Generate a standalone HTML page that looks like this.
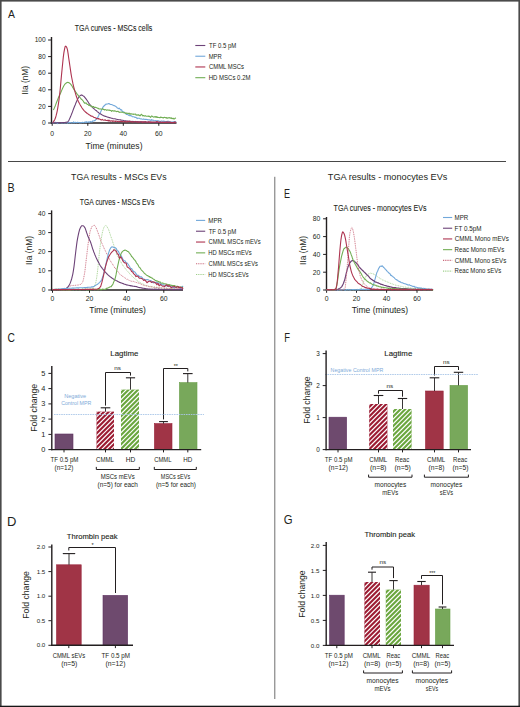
<!DOCTYPE html>
<html><head><meta charset="utf-8"><title>TGA figure</title>
<style>
html,body{margin:0;padding:0;background:#fff;}
body{width:520px;height:707px;overflow:hidden;font-family:"Liberation Sans", sans-serif;}
svg{display:block;}
</style></head><body>
<svg width="520" height="707" viewBox="0 0 520 707" font-family='"Liberation Sans", sans-serif' fill="#231f20">
<rect x="0" y="0" width="520" height="707" fill="#fff"/>
<rect x="0" y="0" width="520" height="1.6" fill="#4a4a4a"/>
<rect x="0" y="0" width="1.6" height="707" fill="#4a4a4a"/>
<rect x="518.4" y="0" width="1.6" height="707" fill="#4a4a4a"/>
<rect x="0" y="705.7" width="520" height="1.3" fill="#161616"/>
<line x1="8" y1="161.5" x2="506" y2="161.5" stroke="#474747" stroke-width="1.1"/>
<line x1="274.8" y1="176.8" x2="274.8" y2="699" stroke="#6e6e6e" stroke-width="1"/>
<text x="7.98" y="18" font-size="11.77" textLength="6.94" lengthAdjust="spacingAndGlyphs">A</text>
<text x="7.42" y="191.7" font-size="12.35" textLength="7.14" lengthAdjust="spacingAndGlyphs">B</text>
<text x="7.48" y="342.45" font-size="12.43" textLength="7.41" lengthAdjust="spacingAndGlyphs">C</text>
<text x="7.08" y="525.7" font-size="12.5" textLength="9.39" lengthAdjust="spacingAndGlyphs">D</text>
<text x="284.06" y="197.8" font-size="12.94" textLength="6.03" lengthAdjust="spacingAndGlyphs">E</text>
<text x="284.13" y="342.3" font-size="12.06" textLength="5.75" lengthAdjust="spacingAndGlyphs">F</text>
<text x="283.73" y="523.55" font-size="12.43" textLength="8.82" lengthAdjust="spacingAndGlyphs">G</text>
<text x="74.84" y="31.4" font-size="8.4" textLength="77.41" lengthAdjust="spacingAndGlyphs" stroke="#231f20" stroke-width="0.08">TGA curves - MSCs cells</text>
<line x1="51.5" y1="37" x2="51.5" y2="123.6" stroke="#231f20" stroke-width="1.4"/>
<line x1="48.1" y1="40" x2="51.5" y2="40" stroke="#231f20" stroke-width="1"/>
<text x="45.7" y="42.27" font-size="6.6" text-anchor="end">100</text>
<line x1="48.1" y1="56.6" x2="51.5" y2="56.6" stroke="#231f20" stroke-width="1"/>
<text x="45.7" y="58.87" font-size="6.6" text-anchor="end">80</text>
<line x1="48.1" y1="73.2" x2="51.5" y2="73.2" stroke="#231f20" stroke-width="1"/>
<text x="45.7" y="75.47" font-size="6.6" text-anchor="end">60</text>
<line x1="48.1" y1="89.8" x2="51.5" y2="89.8" stroke="#231f20" stroke-width="1"/>
<text x="45.7" y="92.07" font-size="6.6" text-anchor="end">40</text>
<line x1="48.1" y1="106.4" x2="51.5" y2="106.4" stroke="#231f20" stroke-width="1"/>
<text x="45.7" y="108.67" font-size="6.6" text-anchor="end">20</text>
<line x1="48.1" y1="123" x2="51.5" y2="123" stroke="#231f20" stroke-width="1"/>
<text x="45.7" y="125.27" font-size="6.6" text-anchor="end">0</text>
<line x1="50.9" y1="123" x2="176.5" y2="123" stroke="#231f20" stroke-width="1.4"/>
<line x1="52.2" y1="123" x2="52.2" y2="125.8" stroke="#231f20" stroke-width="1"/>
<text x="52.2" y="135.8" font-size="6.8" text-anchor="middle">0</text>
<line x1="87.8" y1="123" x2="87.8" y2="125.8" stroke="#231f20" stroke-width="1"/>
<text x="87.8" y="135.8" font-size="6.8" text-anchor="middle">20</text>
<line x1="123.3" y1="123" x2="123.3" y2="125.8" stroke="#231f20" stroke-width="1"/>
<text x="123.3" y="135.8" font-size="6.8" text-anchor="middle">40</text>
<line x1="158.8" y1="123" x2="158.8" y2="125.8" stroke="#231f20" stroke-width="1"/>
<text x="158.8" y="135.8" font-size="6.8" text-anchor="middle">60</text>
<text transform="translate(27.9,93.9) rotate(-90)" x="-0.77" y="0" font-size="9.8" textLength="28.68" lengthAdjust="spacingAndGlyphs">IIa (nM)</text>
<text x="85.61" y="148.8" font-size="9.3" textLength="56.92" lengthAdjust="spacingAndGlyphs">Time (minutes)</text>
<path d="M52.0,123.3 L52.6,122.2 L53.2,122.9 L53.8,122.7 L54.4,122.7 L55.0,122.7 L55.6,122.3 L56.2,122.7 L56.8,122.6 L57.4,123.6 L58.0,122.8 L58.6,122.7 L59.2,122.7 L59.8,122.6 L60.4,122.5 L61.0,122.7 L61.6,122.9 L62.2,122.7 L62.8,123.0 L63.4,122.7 L64.0,122.7 L64.6,123.1 L65.2,122.9 L65.8,122.6 L66.4,122.7 L67.0,122.8 L67.6,123.2 L68.2,122.6 L68.8,122.6 L69.4,122.9 L70.0,122.4 L70.6,122.6 L71.2,122.9 L71.8,122.8 L72.4,122.7 L73.0,122.8 L73.6,121.9 L74.2,122.9 L74.8,122.4 L75.4,122.2 L76.0,122.6 L76.6,122.7 L77.2,122.4 L77.8,122.3 L78.4,122.5 L79.0,122.5 L79.6,122.9 L80.2,122.7 L80.8,122.5 L81.4,122.7 L82.0,122.4 L82.6,122.2 L83.2,122.6 L83.8,122.5 L84.4,122.3 L85.0,122.1 L85.6,122.4 L86.2,121.7 L86.8,122.4 L87.4,122.4 L88.0,121.8 L88.6,122.2 L89.2,121.9 L89.8,122.3 L90.4,121.5 L91.0,121.7 L91.6,121.9 L92.2,121.9 L92.8,120.8 L93.4,121.0 L94.0,121.0 L94.6,120.4 L95.2,120.6 L95.8,119.5 L96.4,119.2 L97.0,118.0 L97.6,117.7 L98.2,116.4 L98.8,115.2 L99.4,113.8 L100.0,113.5 L100.6,112.0 L101.2,110.8 L101.8,109.6 L102.4,108.3 L103.0,107.1 L103.6,106.3 L104.2,105.6 L104.8,105.6 L105.4,104.3 L106.0,104.2 L106.6,104.1 L107.2,104.0 L107.8,104.0 L108.4,103.6 L109.0,103.5 L109.6,104.0 L110.2,104.4 L110.8,104.5 L111.4,104.5 L112.0,104.6 L112.6,105.0 L113.2,105.2 L113.8,105.7 L114.4,105.6 L115.0,106.1 L115.6,106.3 L116.2,106.8 L116.8,107.2 L117.4,108.1 L118.0,108.3 L118.6,108.7 L119.2,108.2 L119.8,109.0 L120.4,109.3 L121.0,110.1 L121.6,109.8 L122.2,111.2 L122.8,111.7 L123.4,111.7 L124.0,112.2 L124.6,112.7 L125.2,113.3 L125.8,113.8 L126.4,114.4 L127.0,114.2 L127.6,114.7 L128.2,114.8 L128.8,115.5 L129.4,115.5 L130.0,115.9 L130.6,115.5 L131.2,115.9 L131.8,116.0 L132.4,116.8 L133.0,116.8 L133.6,116.8 L134.2,116.9 L134.8,117.4 L135.4,117.3 L136.0,117.4 L136.6,117.9 L137.2,118.6 L137.8,118.1 L138.4,118.2 L139.0,118.2 L139.6,118.3 L140.2,118.8 L140.8,119.0 L141.4,118.9 L142.0,119.1 L142.6,119.2 L143.2,119.3 L143.8,118.9 L144.4,119.3 L145.0,119.5 L145.6,119.3 L146.2,119.5 L146.8,119.4 L147.4,119.6 L148.0,119.9 L148.6,119.7 L149.2,119.8 L149.8,120.1 L150.4,120.1 L151.0,120.4 L151.6,119.5 L152.2,120.3 L152.8,120.1 L153.4,120.3 L154.0,120.6 L154.6,120.7 L155.2,120.8 L155.8,120.6 L156.4,121.0 L157.0,120.6 L157.6,120.7 L158.2,121.0 L158.8,120.8 L159.4,121.5 L160.0,121.3 L160.6,121.6 L161.2,121.1 L161.8,121.0 L162.4,121.2 L163.0,121.4 L163.6,121.1 L164.2,121.4 L164.8,121.4 L165.4,121.8 L166.0,121.3 L166.6,121.8 L167.2,121.4 L167.8,121.3 L168.4,121.4 L169.0,121.4 L169.6,121.7 L170.2,122.0 L170.8,121.8 L171.4,122.0 L172.0,122.2 L172.6,121.9 L173.2,121.9 L173.8,121.8 L174.4,121.5 L175.0,122.2 L175.6,121.5 L176.0,122.2" fill="none" stroke="#72a8da" stroke-width="1.1" stroke-linejoin="round"/>
<path d="M52.0,122.8 L52.6,122.9 L53.2,122.8 L53.8,122.7 L54.4,122.8 L55.0,122.7 L55.6,122.8 L56.2,122.8 L56.8,122.8 L57.4,122.7 L58.0,122.7 L58.6,122.7 L59.2,122.5 L59.8,122.7 L60.4,122.6 L61.0,122.8 L61.6,122.8 L62.2,122.5 L62.8,122.7 L63.4,122.6 L64.0,122.5 L64.6,122.6 L65.2,122.5 L65.8,122.2 L66.4,122.3 L67.0,122.1 L67.6,122.0 L68.2,121.3 L68.8,120.5 L69.4,119.3 L70.0,117.9 L70.6,116.6 L71.2,115.1 L71.8,113.5 L72.4,112.1 L73.0,110.4 L73.6,108.7 L74.2,107.2 L74.8,105.8 L75.4,104.5 L76.0,102.7 L76.6,101.4 L77.2,100.1 L77.8,98.8 L78.4,97.9 L79.0,96.7 L79.6,96.2 L80.2,95.6 L80.8,95.2 L81.4,94.9 L82.0,95.3 L82.6,95.4 L83.2,95.9 L83.8,96.2 L84.4,96.8 L85.0,97.6 L85.6,98.4 L86.2,99.2 L86.8,100.0 L87.4,100.9 L88.0,101.8 L88.6,102.8 L89.2,103.6 L89.8,104.3 L90.4,105.1 L91.0,105.8 L91.6,106.4 L92.2,107.0 L92.8,107.7 L93.4,108.4 L94.0,108.7 L94.6,109.3 L95.2,109.8 L95.8,110.5 L96.4,110.6 L97.0,111.4 L97.6,111.9 L98.2,112.2 L98.8,112.9 L99.4,113.3 L100.0,113.6 L100.6,114.1 L101.2,114.3 L101.8,114.7 L102.4,115.2 L103.0,115.3 L103.6,115.8 L104.2,115.9 L104.8,116.3 L105.4,116.4 L106.0,116.4 L106.6,116.8 L107.2,117.0 L107.8,117.1 L108.4,117.2 L109.0,117.6 L109.6,117.6 L110.2,117.7 L110.8,117.9 L111.4,118.2 L112.0,118.2 L112.6,118.5 L113.2,118.7 L113.8,118.7 L114.4,118.7 L115.0,118.8 L115.6,119.0 L116.2,119.2 L116.8,119.3 L117.4,119.5 L118.0,119.5 L118.6,119.7 L119.2,119.7 L119.8,119.8 L120.4,119.9 L121.0,119.9 L121.6,120.2 L122.2,120.2 L122.8,120.3 L123.4,120.6 L124.0,120.6 L124.6,121.0 L125.2,120.9 L125.8,120.8 L126.4,121.1 L127.0,121.1 L127.6,121.1 L128.2,121.3 L128.8,121.2 L129.4,121.0 L130.0,121.4 L130.6,121.3 L131.2,121.6 L131.8,121.4 L132.4,121.4 L133.0,121.7 L133.6,121.4 L134.2,121.6 L134.8,121.7 L135.4,121.6 L136.0,121.6 L136.6,121.7 L137.2,121.8 L137.8,121.6 L138.4,121.8 L139.0,121.8 L139.6,122.0 L140.2,121.8 L140.8,121.7 L141.4,121.9 L142.0,121.8 L142.6,121.9 L143.2,121.9 L143.8,122.1 L144.4,121.9 L145.0,122.0 L145.6,121.7 L146.2,121.9 L146.8,122.2 L147.4,122.0 L148.0,122.0 L148.6,122.0 L149.2,122.2 L149.8,122.1 L150.4,122.0 L151.0,122.2 L151.6,122.2 L152.2,122.3 L152.8,122.1 L153.4,122.4 L154.0,122.3 L154.6,122.2 L155.2,122.2 L155.8,122.3 L156.4,122.4 L157.0,122.3 L157.6,122.4 L158.2,122.4 L158.8,122.5 L159.4,122.4 L160.0,122.4 L160.6,122.2 L161.2,122.4 L161.8,122.5 L162.4,122.4 L163.0,122.5 L163.6,122.4 L164.2,122.4 L164.8,122.3 L165.4,122.6 L166.0,122.5 L166.6,122.4 L167.2,122.3 L167.8,122.4 L168.4,122.6 L169.0,122.5 L169.6,122.4 L170.2,122.6 L170.8,122.6 L171.4,122.6 L172.0,122.6 L172.6,122.6 L173.2,122.5 L173.8,122.6 L174.4,122.4 L175.0,122.6 L175.6,122.5 L176.0,122.7" fill="none" stroke="#6d4378" stroke-width="1.1" stroke-linejoin="round"/>
<path d="M53.4,110.0 L54.0,108.8 L54.6,107.4 L55.2,106.0 L55.8,104.4 L56.4,102.8 L57.0,101.2 L57.6,99.7 L58.2,98.2 L58.8,96.8 L59.4,95.5 L60.0,94.2 L60.6,92.9 L61.2,91.6 L61.8,90.1 L62.4,88.7 L63.0,87.5 L63.6,86.3 L64.2,85.2 L64.8,84.3 L65.4,83.6 L66.0,83.2 L66.6,82.8 L67.2,82.5 L67.8,82.4 L68.4,82.5 L69.0,82.8 L69.6,83.2 L70.2,83.7 L70.8,84.3 L71.4,85.1 L72.0,86.0 L72.6,87.1 L73.2,88.1 L73.8,89.2 L74.4,90.1 L75.0,91.0 L75.6,91.9 L76.2,92.7 L76.8,93.6 L77.4,94.4 L78.0,95.1 L78.6,95.9 L79.2,96.6 L79.8,97.3 L80.4,97.8 L81.0,98.9 L81.6,99.5 L82.2,99.7 L82.8,100.6 L83.4,101.2 L84.0,102.4 L84.6,103.2 L85.2,102.8 L85.8,103.3 L86.4,103.0 L87.0,104.2 L87.6,104.5 L88.2,104.5 L88.8,105.5 L89.4,105.0 L90.0,105.7 L90.6,106.1 L91.2,105.9 L91.8,106.8 L92.4,107.1 L93.0,106.4 L93.6,106.6 L94.2,107.5 L94.8,107.4 L95.4,107.2 L96.0,107.6 L96.6,107.8 L97.2,108.0 L97.8,108.4 L98.4,108.4 L99.0,109.0 L99.6,109.0 L100.2,108.9 L100.8,109.1 L101.4,109.3 L102.0,109.2 L102.6,108.7 L103.2,109.5 L103.8,109.3 L104.4,110.0 L105.0,109.5 L105.6,109.8 L106.2,109.8 L106.8,110.4 L107.4,110.0 L108.0,109.9 L108.6,110.2 L109.2,110.1 L109.8,110.4 L110.4,110.4 L111.0,110.6 L111.6,111.3 L112.2,110.6 L112.8,110.8 L113.4,110.9 L114.0,111.3 L114.6,110.7 L115.2,111.0 L115.8,111.3 L116.4,111.6 L117.0,111.5 L117.6,111.4 L118.2,111.4 L118.8,112.0 L119.4,112.4 L120.0,112.1 L120.6,112.2 L121.2,112.3 L121.8,112.0 L122.4,112.3 L123.0,112.4 L123.6,112.7 L124.2,112.7 L124.8,112.4 L125.4,113.3 L126.0,113.6 L126.6,113.0 L127.2,113.3 L127.8,113.4 L128.4,113.7 L129.0,113.0 L129.6,114.2 L130.2,113.6 L130.8,114.3 L131.4,113.9 L132.0,113.9 L132.6,114.1 L133.2,114.5 L133.8,114.0 L134.4,114.3 L135.0,114.3 L135.6,114.0 L136.2,115.2 L136.8,115.0 L137.4,114.9 L138.0,115.4 L138.6,114.7 L139.2,115.1 L139.8,115.8 L140.4,115.7 L141.0,114.6 L141.6,114.3 L142.2,115.2 L142.8,116.0 L143.4,115.5 L144.0,115.7 L144.6,116.1 L145.2,115.6 L145.8,116.1 L146.4,116.3 L147.0,116.3 L147.6,116.3 L148.2,116.0 L148.8,116.5 L149.4,116.2 L150.0,116.9 L150.6,117.4 L151.2,116.3 L151.8,115.8 L152.4,116.5 L153.0,116.8 L153.6,117.1 L154.2,117.2 L154.8,116.6 L155.4,116.6 L156.0,117.4 L156.6,116.6 L157.2,117.5 L157.8,117.1 L158.4,117.5 L159.0,117.5 L159.6,117.6 L160.2,117.6 L160.8,117.0 L161.4,117.5 L162.0,117.5 L162.6,117.6 L163.2,118.0 L163.8,117.5 L164.4,117.4 L165.0,117.5 L165.6,117.6 L166.2,118.1 L166.8,117.5 L167.4,118.3 L168.0,118.0 L168.6,117.9 L169.2,117.5 L169.8,118.1 L170.4,118.3 L171.0,117.5 L171.6,118.5 L172.2,118.7 L172.8,118.3 L173.4,118.4 L174.0,119.1 L174.6,118.7 L175.2,118.0 L175.8,118.3 L176.0,118.2" fill="none" stroke="#72ae55" stroke-width="1.1" stroke-linejoin="round"/>
<path d="M52.5,122.5 L53.1,122.1 L53.7,121.4 L54.3,120.4 L54.9,119.2 L55.5,117.8 L56.1,115.7 L56.7,113.3 L57.3,110.6 L57.9,107.2 L58.5,103.3 L59.1,98.9 L59.7,94.1 L60.3,88.2 L60.9,81.6 L61.5,75.1 L62.1,69.0 L62.7,63.0 L63.3,57.1 L63.9,52.6 L64.5,49.3 L65.1,46.7 L65.7,46.1 L66.3,46.7 L66.9,47.8 L67.5,49.9 L68.1,53.6 L68.7,58.0 L69.3,61.9 L69.9,66.0 L70.5,70.2 L71.1,74.1 L71.7,77.5 L72.3,80.5 L72.9,83.4 L73.5,86.0 L74.1,88.4 L74.7,90.7 L75.3,92.9 L75.9,94.9 L76.5,96.8 L77.1,98.4 L77.7,99.9 L78.3,101.2 L78.9,102.4 L79.5,103.6 L80.1,104.7 L80.7,105.7 L81.3,106.7 L81.9,107.7 L82.5,108.6 L83.1,109.4 L83.7,110.1 L84.3,110.8 L84.9,111.4 L85.5,112.0 L86.1,112.5 L86.7,113.0 L87.3,113.5 L87.9,113.9 L88.5,114.3 L89.1,114.7 L89.7,115.1 L90.3,115.4 L90.9,116.0 L91.5,116.1 L92.1,116.2 L92.7,116.3 L93.3,117.0 L93.9,117.4 L94.5,117.6 L95.1,117.8 L95.7,117.7 L96.3,118.7 L96.9,118.4 L97.5,118.6 L98.1,119.0 L98.7,118.5 L99.3,119.1 L99.9,119.3 L100.5,119.6 L101.1,119.9 L101.7,119.9 L102.3,119.4 L102.9,119.9 L103.5,120.1 L104.1,120.2 L104.7,119.9 L105.3,119.9 L105.9,120.5 L106.5,120.5 L107.1,120.5 L107.7,120.2 L108.3,121.1 L108.9,120.0 L109.5,120.7 L110.1,121.4 L110.7,120.9 L111.3,121.0 L111.9,120.7 L112.5,121.4 L113.1,120.8 L113.7,121.2 L114.3,121.2 L114.9,121.0 L115.5,121.5 L116.1,121.0 L116.7,121.2 L117.3,121.4 L117.9,121.3 L118.5,121.6 L119.1,121.7 L119.7,121.4 L120.3,121.4 L120.9,121.4 L121.5,121.5 L122.1,121.8 L122.7,121.5 L123.3,121.7 L123.9,121.6 L124.5,121.4 L125.1,121.9 L125.7,121.4 L126.3,121.7 L126.9,122.1 L127.5,121.4 L128.1,121.7 L128.7,121.3 L129.3,121.6 L129.9,121.4 L130.5,121.7 L131.1,121.6 L131.7,121.8 L132.3,122.2 L132.9,121.9 L133.5,122.0 L134.1,121.8 L134.7,121.8 L135.3,121.7 L135.9,121.4 L136.5,121.9 L137.1,122.3 L137.7,122.0 L138.3,121.8 L138.9,122.4 L139.5,121.8 L140.1,121.8 L140.7,121.7 L141.3,121.7 L141.9,121.9 L142.5,122.5 L143.1,122.0 L143.7,121.8 L144.3,121.9 L144.9,122.0 L145.5,121.6 L146.1,122.1 L146.7,122.3 L147.3,122.2 L147.9,122.2 L148.5,121.8 L149.1,121.7 L149.7,122.4 L150.3,122.4 L150.9,121.8 L151.5,122.2 L152.1,122.2 L152.7,122.3 L153.3,122.2 L153.9,122.0 L154.5,122.2 L155.1,122.2 L155.7,122.2 L156.3,121.7 L156.9,121.5 L157.5,122.0 L158.1,121.8 L158.7,122.3 L159.3,122.4 L159.9,122.3 L160.5,122.1 L161.1,122.3 L161.7,122.5 L162.3,122.1 L162.9,122.5 L163.5,122.4 L164.1,122.3 L164.7,122.6 L165.3,122.1 L165.9,122.5 L166.5,122.0 L167.1,122.1 L167.7,122.0 L168.3,122.4 L168.9,122.1 L169.5,122.3 L170.1,122.0 L170.7,122.6 L171.3,122.8 L171.9,122.4 L172.5,122.7 L173.1,122.4 L173.7,122.8 L174.3,122.3 L174.9,121.9 L175.5,122.7 L176.0,122.3" fill="none" stroke="#ae3450" stroke-width="1.1" stroke-linejoin="round"/>
<line x1="195.3" y1="45.5" x2="205.3" y2="45.5" stroke="#6d4378" stroke-width="1.1"/>
<text x="209.07" y="47.8" font-size="6.9" textLength="27.22" lengthAdjust="spacingAndGlyphs">TF 0.5 pM</text>
<line x1="195.3" y1="56.23" x2="205.3" y2="56.23" stroke="#72a8da" stroke-width="1.1"/>
<text x="208.72" y="58.53" font-size="6.9" textLength="13.05" lengthAdjust="spacingAndGlyphs">MPR</text>
<line x1="195.3" y1="66.96" x2="205.3" y2="66.96" stroke="#ae3450" stroke-width="1.1"/>
<text x="208.90" y="69.26" font-size="6.9" textLength="35.11" lengthAdjust="spacingAndGlyphs">CMML MSCs</text>
<line x1="195.3" y1="77.69" x2="205.3" y2="77.69" stroke="#72ae55" stroke-width="1.1"/>
<text x="208.71" y="79.99" font-size="6.9" textLength="41.79" lengthAdjust="spacingAndGlyphs">HD MSCs 0.2M</text>
<text x="71.06" y="180" font-size="9.5" textLength="95.51" lengthAdjust="spacingAndGlyphs">TGA results - MSCs EVs</text>
<text x="79.85" y="205.1" font-size="8.2" textLength="74.65" lengthAdjust="spacingAndGlyphs" stroke="#231f20" stroke-width="0.08">TGA curves - MSCs EVs</text>
<line x1="51.6" y1="210.4" x2="51.6" y2="290.6" stroke="#231f20" stroke-width="1.4"/>
<line x1="48.2" y1="213.6" x2="51.6" y2="213.6" stroke="#231f20" stroke-width="1"/>
<text x="45.4" y="215.87" font-size="6.6" text-anchor="end">40</text>
<line x1="48.2" y1="232.6" x2="51.6" y2="232.6" stroke="#231f20" stroke-width="1"/>
<text x="45.4" y="234.87" font-size="6.6" text-anchor="end">30</text>
<line x1="48.2" y1="251.6" x2="51.6" y2="251.6" stroke="#231f20" stroke-width="1"/>
<text x="45.4" y="253.87" font-size="6.6" text-anchor="end">20</text>
<line x1="48.2" y1="270.8" x2="51.6" y2="270.8" stroke="#231f20" stroke-width="1"/>
<text x="45.4" y="273.07" font-size="6.6" text-anchor="end">10</text>
<line x1="48.2" y1="290" x2="51.6" y2="290" stroke="#231f20" stroke-width="1"/>
<text x="45.4" y="292.27" font-size="6.6" text-anchor="end">0</text>
<line x1="51.2" y1="290" x2="183" y2="290" stroke="#231f20" stroke-width="1.4"/>
<line x1="52.5" y1="290" x2="52.5" y2="292.8" stroke="#231f20" stroke-width="1"/>
<text x="52.5" y="301" font-size="6.8" text-anchor="middle">0</text>
<line x1="89.5" y1="290" x2="89.5" y2="292.8" stroke="#231f20" stroke-width="1"/>
<text x="89.5" y="301" font-size="6.8" text-anchor="middle">20</text>
<line x1="126.5" y1="290" x2="126.5" y2="292.8" stroke="#231f20" stroke-width="1"/>
<text x="126.5" y="301" font-size="6.8" text-anchor="middle">40</text>
<line x1="163.8" y1="290" x2="163.8" y2="292.8" stroke="#231f20" stroke-width="1"/>
<text x="163.8" y="301" font-size="6.8" text-anchor="middle">60</text>
<text transform="translate(31.6,264.2) rotate(-90)" x="-0.78" y="0" font-size="9.6" textLength="29.00" lengthAdjust="spacingAndGlyphs">IIa (nM)</text>
<text x="89.31" y="313" font-size="9.3" textLength="56.62" lengthAdjust="spacingAndGlyphs">Time (minutes)</text>
<path d="M52.4,289.4 L53.0,289.5 L53.6,289.4 L54.2,289.6 L54.8,289.4 L55.4,289.8 L56.0,289.7 L56.6,289.3 L57.2,289.4 L57.8,289.5 L58.4,289.3 L59.0,289.6 L59.6,289.6 L60.2,289.5 L60.8,289.5 L61.4,289.7 L62.0,289.8 L62.6,289.8 L63.2,289.6 L63.8,289.7 L64.4,289.5 L65.0,289.6 L65.6,289.4 L66.2,289.7 L66.8,289.4 L67.4,289.4 L68.0,289.5 L68.6,289.6 L69.2,289.3 L69.8,289.4 L70.4,289.5 L71.0,289.5 L71.6,289.4 L72.2,289.5 L72.8,289.5 L73.4,289.7 L74.0,289.6 L74.6,289.3 L75.2,289.1 L75.8,289.5 L76.4,289.6 L77.0,289.5 L77.6,289.6 L78.2,289.4 L78.8,289.2 L79.4,289.5 L80.0,289.4 L80.6,289.5 L81.2,289.2 L81.8,289.4 L82.4,289.2 L83.0,289.4 L83.6,289.2 L84.2,289.2 L84.8,289.1 L85.4,289.4 L86.0,289.2 L86.6,289.0 L87.2,288.9 L87.8,288.9 L88.4,289.2 L89.0,288.6 L89.6,288.7 L90.2,288.8 L90.8,288.7 L91.4,288.3 L92.0,288.2 L92.6,288.0 L93.2,287.6 L93.8,286.8 L94.4,286.2 L95.0,285.0 L95.6,283.7 L96.2,280.5 L96.8,277.0 L97.4,272.4 L98.0,267.2 L98.6,260.8 L99.2,254.5 L99.8,249.5 L100.4,244.5 L101.0,240.6 L101.6,236.8 L102.2,233.4 L102.8,230.8 L103.4,228.9 L104.0,227.2 L104.6,226.2 L105.2,225.7 L105.8,225.4 L106.4,225.8 L107.0,226.6 L107.6,227.8 L108.2,228.7 L108.8,230.0 L109.4,232.1 L110.0,233.6 L110.6,235.8 L111.2,237.3 L111.8,239.0 L112.4,240.8 L113.0,242.9 L113.6,244.5 L114.2,246.5 L114.8,248.5 L115.4,250.4 L116.0,252.1 L116.6,253.7 L117.2,255.2 L117.8,256.5 L118.4,257.2 L119.0,259.0 L119.6,259.7 L120.2,261.0 L120.8,261.7 L121.4,263.0 L122.0,264.0 L122.6,264.9 L123.2,265.9 L123.8,266.8 L124.4,267.3 L125.0,268.2 L125.6,269.1 L126.2,269.8 L126.8,270.4 L127.4,271.1 L128.0,271.8 L128.6,272.3 L129.2,272.9 L129.8,274.0 L130.4,274.3 L131.0,275.0 L131.6,275.5 L132.2,276.4 L132.8,277.1 L133.4,277.3 L134.0,278.0 L134.6,278.3 L135.2,279.2 L135.8,279.6 L136.4,279.9 L137.0,280.7 L137.6,281.0 L138.2,281.5 L138.8,281.9 L139.4,282.1 L140.0,282.4 L140.6,282.9 L141.2,283.2 L141.8,283.3 L142.4,284.1 L143.0,284.0 L143.6,284.3 L144.2,284.5 L144.8,285.0 L145.4,285.3 L146.0,285.4 L146.6,285.7 L147.2,285.5 L147.8,285.9 L148.4,286.1 L149.0,286.3 L149.6,286.5 L150.2,286.2 L150.8,287.1 L151.4,286.6 L152.0,286.9 L152.6,287.1 L153.2,287.2 L153.8,287.2 L154.4,286.8 L155.0,287.2 L155.6,287.6 L156.2,287.4 L156.8,287.5 L157.4,287.3 L158.0,287.9 L158.6,287.9 L159.2,287.8 L159.8,287.9 L160.4,288.0 L161.0,287.9 L161.6,288.1 L162.2,288.2 L162.8,288.3 L163.4,288.5 L164.0,288.3 L164.6,288.3 L165.2,288.5 L165.8,288.4 L166.4,288.3 L167.0,288.7 L167.6,288.5 L168.2,288.6 L168.8,288.8 L169.4,288.5 L170.0,288.8 L170.6,288.8 L171.2,288.8 L171.8,288.9 L172.4,288.8 L173.0,288.6 L173.6,288.9 L174.2,288.8 L174.8,289.1 L175.4,289.1 L176.0,289.0 L176.6,289.1 L177.2,289.3 L177.8,289.3 L178.4,289.2 L179.0,289.2 L179.6,289.1 L180.2,289.2 L180.8,289.3 L181.4,289.2 L182.0,289.2 L182.6,289.0 L183.0,289.0" fill="none" stroke="#9fcf8a" stroke-width="0.9" stroke-linejoin="round" stroke-dasharray="1,0.8"/>
<path d="M52.4,289.3 L53.0,289.5 L53.6,289.9 L54.2,289.8 L54.8,289.4 L55.4,289.2 L56.0,289.6 L56.6,289.5 L57.2,289.1 L57.8,289.6 L58.4,289.4 L59.0,289.5 L59.6,289.3 L60.2,289.4 L60.8,289.2 L61.4,288.9 L62.0,289.0 L62.6,288.8 L63.2,289.0 L63.8,288.5 L64.4,288.3 L65.0,288.6 L65.6,288.5 L66.2,288.3 L66.8,287.9 L67.4,287.0 L68.0,286.9 L68.6,286.6 L69.2,286.5 L69.8,285.8 L70.4,285.9 L71.0,285.8 L71.6,285.4 L72.2,285.5 L72.8,285.6 L73.4,285.4 L74.0,285.5 L74.6,285.5 L75.2,285.3 L75.8,285.3 L76.4,285.1 L77.0,285.4 L77.6,285.0 L78.2,284.8 L78.8,285.0 L79.4,284.5 L80.0,284.6 L80.6,284.4 L81.2,283.9 L81.8,283.3 L82.4,282.5 L83.0,281.2 L83.6,278.5 L84.2,275.3 L84.8,272.0 L85.4,267.0 L86.0,261.6 L86.6,256.6 L87.2,251.6 L87.8,246.3 L88.4,242.1 L89.0,237.6 L89.6,234.0 L90.2,231.0 L90.8,229.3 L91.4,227.9 L92.0,226.3 L92.6,226.2 L93.2,225.7 L93.8,225.4 L94.4,225.3 L95.0,225.7 L95.6,226.7 L96.2,228.0 L96.8,229.4 L97.4,231.0 L98.0,232.6 L98.6,234.3 L99.2,235.9 L99.8,237.6 L100.4,239.6 L101.0,241.3 L101.6,242.7 L102.2,243.8 L102.8,245.4 L103.4,246.5 L104.0,248.2 L104.6,249.2 L105.2,250.5 L105.8,251.8 L106.4,252.9 L107.0,254.3 L107.6,255.0 L108.2,256.0 L108.8,257.8 L109.4,259.2 L110.0,260.3 L110.6,261.2 L111.2,262.3 L111.8,263.2 L112.4,263.8 L113.0,264.9 L113.6,266.0 L114.2,266.6 L114.8,268.0 L115.4,268.1 L116.0,269.1 L116.6,270.3 L117.2,270.8 L117.8,271.5 L118.4,272.2 L119.0,273.0 L119.6,274.1 L120.2,274.5 L120.8,275.0 L121.4,275.3 L122.0,276.1 L122.6,276.4 L123.2,276.6 L123.8,277.1 L124.4,277.6 L125.0,278.2 L125.6,278.3 L126.2,278.8 L126.8,279.5 L127.4,279.2 L128.0,279.5 L128.6,280.2 L129.2,280.4 L129.8,280.6 L130.4,280.9 L131.0,280.9 L131.6,281.3 L132.2,281.2 L132.8,281.6 L133.4,281.4 L134.0,281.6 L134.6,281.9 L135.2,282.0 L135.8,282.4 L136.4,282.5 L137.0,282.6 L137.6,283.0 L138.2,283.0 L138.8,283.1 L139.4,283.4 L140.0,283.6 L140.6,283.9 L141.2,284.2 L141.8,284.6 L142.4,284.7 L143.0,285.2 L143.6,285.3 L144.2,285.2 L144.8,285.7 L145.4,285.8 L146.0,285.6 L146.6,285.9 L147.2,286.2 L147.8,286.2 L148.4,286.5 L149.0,286.5 L149.6,286.7 L150.2,286.6 L150.8,286.9 L151.4,286.8 L152.0,287.1 L152.6,286.7 L153.2,287.2 L153.8,287.5 L154.4,287.4 L155.0,287.4 L155.6,287.5 L156.2,287.3 L156.8,287.4 L157.4,287.6 L158.0,287.7 L158.6,287.9 L159.2,287.6 L159.8,288.1 L160.4,287.6 L161.0,287.8 L161.6,288.0 L162.2,288.3 L162.8,288.0 L163.4,287.7 L164.0,288.2 L164.6,288.2 L165.2,288.0 L165.8,288.0 L166.4,288.1 L167.0,288.3 L167.6,288.5 L168.2,288.1 L168.8,288.9 L169.4,288.4 L170.0,288.4 L170.6,288.6 L171.2,288.5 L171.8,289.0 L172.4,288.8 L173.0,288.5 L173.6,288.5 L174.2,288.5 L174.8,288.6 L175.4,288.8 L176.0,288.6 L176.6,289.0 L177.2,288.7 L177.8,288.7 L178.4,288.9 L179.0,288.4 L179.6,288.6 L180.2,288.9 L180.8,288.8 L181.4,288.8 L182.0,288.9 L182.6,288.7 L183.0,288.8" fill="none" stroke="#c9687a" stroke-width="0.9" stroke-linejoin="round" stroke-dasharray="1,0.8"/>
<path d="M52.4,289.5 L53.0,289.4 L53.6,289.7 L54.2,289.5 L54.8,289.5 L55.4,289.7 L56.0,289.7 L56.6,289.5 L57.2,289.5 L57.8,289.5 L58.4,289.4 L59.0,289.6 L59.6,289.5 L60.2,289.5 L60.8,289.5 L61.4,289.5 L62.0,289.6 L62.6,289.5 L63.2,289.1 L63.8,289.3 L64.4,288.9 L65.0,288.7 L65.6,288.7 L66.2,288.4 L66.8,288.0 L67.4,287.7 L68.0,286.9 L68.6,286.0 L69.2,285.1 L69.8,284.0 L70.4,282.6 L71.0,280.8 L71.6,279.0 L72.2,276.7 L72.8,274.1 L73.4,270.7 L74.0,266.6 L74.6,261.8 L75.2,256.3 L75.8,251.2 L76.4,246.4 L77.0,241.9 L77.6,238.4 L78.2,235.4 L78.8,232.6 L79.4,230.3 L80.0,228.6 L80.6,227.4 L81.2,226.3 L81.8,225.7 L82.4,225.7 L83.0,225.8 L83.6,226.0 L84.2,226.7 L84.8,227.6 L85.4,228.8 L86.0,230.6 L86.6,232.5 L87.2,234.1 L87.8,236.0 L88.4,237.3 L89.0,238.6 L89.6,240.0 L90.2,241.3 L90.8,242.8 L91.4,244.7 L92.0,246.7 L92.6,248.6 L93.2,250.2 L93.8,252.0 L94.4,253.4 L95.0,255.0 L95.6,256.4 L96.2,257.8 L96.8,259.0 L97.4,260.2 L98.0,261.4 L98.6,262.4 L99.2,263.6 L99.8,264.7 L100.4,265.7 L101.0,266.6 L101.6,267.4 L102.2,268.3 L102.8,269.0 L103.4,269.8 L104.0,270.7 L104.6,271.4 L105.2,271.9 L105.8,272.6 L106.4,273.1 L107.0,274.0 L107.6,274.4 L108.2,275.1 L108.8,275.5 L109.4,276.1 L110.0,276.6 L110.6,277.1 L111.2,277.4 L111.8,278.0 L112.4,278.3 L113.0,278.7 L113.6,279.2 L114.2,279.4 L114.8,279.8 L115.4,280.1 L116.0,280.5 L116.6,280.8 L117.2,281.1 L117.8,281.4 L118.4,281.7 L119.0,282.1 L119.6,282.4 L120.2,282.5 L120.8,282.9 L121.4,283.0 L122.0,283.1 L122.6,283.5 L123.2,283.6 L123.8,283.9 L124.4,284.2 L125.0,284.2 L125.6,284.4 L126.2,284.9 L126.8,284.8 L127.4,285.0 L128.0,285.2 L128.6,285.3 L129.2,285.4 L129.8,285.6 L130.4,285.5 L131.0,286.0 L131.6,285.8 L132.2,285.9 L132.8,286.2 L133.4,286.2 L134.0,286.2 L134.6,286.4 L135.2,286.4 L135.8,286.6 L136.4,286.6 L137.0,286.8 L137.6,287.1 L138.2,287.2 L138.8,287.4 L139.4,287.6 L140.0,287.6 L140.6,287.7 L141.2,287.8 L141.8,288.1 L142.4,288.1 L143.0,288.2 L143.6,288.3 L144.2,288.4 L144.8,288.5 L145.4,288.6 L146.0,288.7 L146.6,288.7 L147.2,288.8 L147.8,289.0 L148.4,289.1 L149.0,289.1 L149.6,289.1 L150.2,289.0 L150.8,289.2 L151.4,289.2 L152.0,289.0 L152.6,289.3 L153.2,289.3 L153.8,289.4 L154.4,289.1 L155.0,289.1 L155.6,289.3 L156.2,289.1 L156.8,289.2 L157.4,289.2 L158.0,289.2 L158.6,289.1 L159.2,289.3 L159.8,289.5 L160.4,289.4 L161.0,289.4 L161.6,289.4 L162.2,289.6 L162.8,289.5 L163.4,289.5 L164.0,289.3 L164.6,289.5 L165.2,289.3 L165.8,289.5 L166.4,289.5 L167.0,289.4 L167.6,289.5 L168.2,289.6 L168.8,289.6 L169.4,289.6 L170.0,289.4 L170.6,289.5 L171.2,289.4 L171.8,289.6 L172.4,289.7 L173.0,289.6 L173.6,289.6 L174.2,289.5 L174.8,289.6 L175.4,289.6 L176.0,289.4 L176.6,289.4 L177.2,289.6 L177.8,289.5 L178.4,289.8 L179.0,289.6 L179.6,289.5 L180.2,289.5 L180.8,289.8 L181.4,289.5 L182.0,289.7 L182.6,289.6 L183.0,289.7" fill="none" stroke="#6d4378" stroke-width="1.1" stroke-linejoin="round"/>
<path d="M52.4,289.6 L53.5,289.5 L54.6,289.4 L55.7,289.4 L56.8,289.3 L57.9,289.2 L59.0,289.1 L60.1,289.0 L61.2,288.9 L62.3,288.8 L63.4,288.6 L64.5,288.5 L65.6,288.5 L66.7,288.4 L67.8,288.3 L68.9,288.3 L70.0,288.2 L71.1,288.2 L72.2,288.1 L73.3,288.1 L74.4,288.0 L75.5,288.0 L76.6,287.9 L77.7,287.9 L78.8,287.9 L79.9,287.8 L81.0,287.8 L82.1,287.7 L83.2,287.7 L84.3,287.6 L85.4,287.6 L86.5,287.5 L87.6,287.4 L88.7,287.3 L89.8,287.2 L90.9,287.1 L92.0,286.9 L93.1,286.7 L94.2,286.2 L95.3,285.6 L96.4,284.9 L97.5,284.2 L98.6,283.4 L99.7,282.3 L100.8,281.1 L101.9,279.2 L103.0,276.0 L104.1,272.1 L105.2,267.5 L106.3,262.4 L107.4,257.6 L108.5,253.3 L109.6,250.0 L110.7,247.9 L111.8,246.8 L112.9,247.0 L114.0,247.6 L115.1,247.6 L116.2,248.5 L117.3,250.8 L118.4,251.2 L119.5,254.0 L120.6,254.8 L121.7,256.8 L122.8,259.2 L123.9,260.6 L125.0,260.8 L126.1,262.8 L127.2,263.0 L128.3,264.5 L129.4,266.3 L130.5,268.2 L131.6,268.5 L132.7,270.5 L133.8,271.6 L134.9,272.0 L136.0,273.6 L137.1,275.3 L138.2,275.2 L139.3,276.2 L140.4,277.0 L141.5,276.8 L142.6,278.4 L143.7,279.1 L144.8,279.6 L145.9,280.0 L147.0,279.5 L148.1,279.8 L149.2,280.2 L150.3,280.5 L151.4,280.9 L152.5,282.3 L153.6,282.9 L154.7,282.0 L155.8,283.1 L156.9,282.3 L158.0,283.2 L159.1,283.1 L160.2,283.1 L161.3,284.4 L162.4,284.7 L163.5,284.8 L164.6,285.2 L165.7,285.2 L166.8,286.0 L167.9,285.9 L169.0,286.6 L170.1,285.9 L171.2,286.8 L172.3,287.1 L173.4,287.6 L174.5,287.6 L175.6,287.3 L176.7,286.9 L177.8,286.3 L178.9,287.4 L180.0,288.3 L181.1,288.5 L182.2,286.2 L183.1,287.2" fill="none" stroke="#72a8da" stroke-width="1.1" stroke-linejoin="round"/>
<path d="M52.4,289.5 L53.0,289.4 L53.6,289.6 L54.2,289.6 L54.8,289.5 L55.4,289.6 L56.0,289.3 L56.6,289.4 L57.2,289.4 L57.8,289.8 L58.4,289.3 L59.0,289.6 L59.6,289.8 L60.2,289.6 L60.8,289.8 L61.4,289.5 L62.0,289.7 L62.6,289.8 L63.2,290.0 L63.8,289.7 L64.4,289.9 L65.0,289.6 L65.6,289.6 L66.2,289.9 L66.8,289.7 L67.4,289.9 L68.0,289.7 L68.6,290.0 L69.2,290.1 L69.8,289.4 L70.4,290.0 L71.0,289.7 L71.6,289.7 L72.2,289.6 L72.8,289.7 L73.4,289.4 L74.0,289.4 L74.6,289.4 L75.2,289.6 L75.8,289.8 L76.4,289.7 L77.0,289.6 L77.6,289.4 L78.2,289.2 L78.8,289.6 L79.4,289.6 L80.0,289.6 L80.6,289.8 L81.2,289.5 L81.8,289.5 L82.4,289.1 L83.0,289.7 L83.6,289.5 L84.2,289.4 L84.8,289.6 L85.4,289.3 L86.0,289.4 L86.6,289.9 L87.2,289.7 L87.8,289.7 L88.4,289.7 L89.0,289.6 L89.6,289.5 L90.2,289.9 L90.8,289.5 L91.4,289.6 L92.0,289.4 L92.6,289.4 L93.2,289.0 L93.8,289.1 L94.4,289.8 L95.0,289.8 L95.6,289.4 L96.2,289.4 L96.8,289.6 L97.4,289.2 L98.0,289.8 L98.6,289.2 L99.2,289.3 L99.8,288.9 L100.4,289.7 L101.0,289.4 L101.6,289.7 L102.2,289.1 L102.8,289.3 L103.4,289.2 L104.0,289.2 L104.6,289.5 L105.2,289.4 L105.8,289.0 L106.4,288.4 L107.0,288.3 L107.6,288.2 L108.2,287.8 L108.8,287.6 L109.4,287.3 L110.0,286.8 L110.6,286.7 L111.2,286.6 L111.8,285.6 L112.4,285.0 L113.0,284.0 L113.6,282.2 L114.2,281.1 L114.8,279.2 L115.4,277.6 L116.0,274.9 L116.6,271.7 L117.2,268.5 L117.8,265.6 L118.4,262.9 L119.0,260.0 L119.6,258.5 L120.2,256.3 L120.8,254.4 L121.4,253.0 L122.0,252.1 L122.6,251.2 L123.2,250.9 L123.8,250.5 L124.4,250.4 L125.0,250.1 L125.6,250.3 L126.2,250.5 L126.8,250.8 L127.4,251.4 L128.0,251.6 L128.6,251.9 L129.2,252.8 L129.8,253.5 L130.4,254.3 L131.0,255.2 L131.6,256.5 L132.2,256.9 L132.8,257.7 L133.4,258.3 L134.0,259.4 L134.6,259.9 L135.2,260.6 L135.8,261.4 L136.4,262.7 L137.0,263.7 L137.6,264.2 L138.2,265.3 L138.8,266.5 L139.4,267.5 L140.0,267.8 L140.6,268.8 L141.2,269.8 L141.8,270.3 L142.4,271.0 L143.0,271.7 L143.6,272.2 L144.2,273.1 L144.8,273.7 L145.4,273.9 L146.0,274.6 L146.6,275.2 L147.2,275.4 L147.8,275.9 L148.4,276.0 L149.0,276.7 L149.6,276.6 L150.2,277.5 L150.8,277.3 L151.4,277.7 L152.0,278.0 L152.6,278.5 L153.2,278.9 L153.8,279.2 L154.4,279.6 L155.0,280.2 L155.6,280.6 L156.2,280.6 L156.8,281.2 L157.4,281.0 L158.0,281.3 L158.6,281.5 L159.2,282.1 L159.8,281.9 L160.4,282.1 L161.0,282.9 L161.6,283.2 L162.2,283.3 L162.8,282.9 L163.4,283.4 L164.0,283.8 L164.6,283.8 L165.2,283.7 L165.8,284.1 L166.4,284.0 L167.0,284.2 L167.6,285.0 L168.2,284.8 L168.8,284.5 L169.4,284.6 L170.0,285.1 L170.6,285.0 L171.2,285.4 L171.8,285.2 L172.4,285.4 L173.0,285.7 L173.6,285.5 L174.2,285.5 L174.8,285.8 L175.4,286.0 L176.0,286.2 L176.6,286.4 L177.2,286.5 L177.8,286.7 L178.4,286.5 L179.0,287.0 L179.6,287.2 L180.2,287.0 L180.8,287.0 L181.4,287.3 L182.0,287.2 L182.6,287.2 L183.1,287.2" fill="none" stroke="#72ae55" stroke-width="1.1" stroke-linejoin="round"/>
<path d="M52.4,289.6 L53.5,289.6 L54.6,289.6 L55.7,289.6 L56.8,289.6 L57.9,289.6 L59.0,289.6 L60.1,289.6 L61.2,289.6 L62.3,289.6 L63.4,289.6 L64.5,289.6 L65.6,289.6 L66.7,289.6 L67.8,289.6 L68.9,289.6 L70.0,289.6 L71.1,289.6 L72.2,289.5 L73.3,289.5 L74.4,289.5 L75.5,289.5 L76.6,289.5 L77.7,289.5 L78.8,289.5 L79.9,289.5 L81.0,289.5 L82.1,289.5 L83.2,289.5 L84.3,289.5 L85.4,289.4 L86.5,289.4 L87.6,289.4 L88.7,289.4 L89.8,289.4 L90.9,289.4 L92.0,289.4 L93.1,289.4 L94.2,289.3 L95.3,289.3 L96.4,289.2 L97.5,289.1 L98.6,288.6 L99.7,287.7 L100.8,286.1 L101.9,282.4 L103.0,277.8 L104.1,272.8 L105.2,267.7 L106.3,263.6 L107.4,260.1 L108.5,257.3 L109.6,255.2 L110.7,253.5 L111.8,252.1 L112.9,251.1 L114.0,249.6 L115.1,250.4 L116.2,250.9 L117.3,253.8 L118.4,254.5 L119.5,258.3 L120.6,256.9 L121.7,258.2 L122.8,260.9 L123.9,262.2 L125.0,263.0 L126.1,263.0 L127.2,266.9 L128.3,267.5 L129.4,268.7 L130.5,269.2 L131.6,271.6 L132.7,272.1 L133.8,273.9 L134.9,274.7 L136.0,276.6 L137.1,276.0 L138.2,276.6 L139.3,278.3 L140.4,278.2 L141.5,278.6 L142.6,279.0 L143.7,280.5 L144.8,279.8 L145.9,281.1 L147.0,282.7 L148.1,281.8 L149.2,281.2 L150.3,281.2 L151.4,282.5 L152.5,281.8 L153.6,281.9 L154.7,282.8 L155.8,282.9 L156.9,284.7 L158.0,283.3 L159.1,285.9 L160.2,284.5 L161.3,285.4 L162.4,286.1 L163.5,286.0 L164.6,286.6 L165.7,285.5 L166.8,284.8 L167.9,286.5 L169.0,285.5 L170.1,286.4 L171.2,287.7 L172.3,286.9 L173.4,286.7 L174.5,286.4 L175.6,287.2 L176.7,287.4 L177.8,286.4 L178.9,287.9 L180.0,287.0 L181.1,288.0 L182.2,287.6 L183.1,288.8" fill="none" stroke="#ae3450" stroke-width="1.1" stroke-linejoin="round"/>
<line x1="196" y1="220.4" x2="205.2" y2="220.4" stroke="#72a8da" stroke-width="1.1"/>
<text x="208.29" y="222.7" font-size="6.9" textLength="13.80" lengthAdjust="spacingAndGlyphs">MPR</text>
<line x1="196" y1="231.22" x2="205.2" y2="231.22" stroke="#6d4378" stroke-width="1.1"/>
<text x="208.66" y="233.52" font-size="6.9" textLength="27.53" lengthAdjust="spacingAndGlyphs">TF 0.5 pM</text>
<line x1="196" y1="242.04" x2="205.2" y2="242.04" stroke="#ae3450" stroke-width="1.1"/>
<text x="208.50" y="244.34" font-size="6.9" textLength="52.21" lengthAdjust="spacingAndGlyphs">CMML MSCs mEVs</text>
<line x1="196" y1="252.86" x2="205.2" y2="252.86" stroke="#72ae55" stroke-width="1.1"/>
<text x="208.32" y="255.16" font-size="6.9" textLength="43.39" lengthAdjust="spacingAndGlyphs">HD MSCs mEVs</text>
<line x1="196" y1="263.68" x2="205.2" y2="263.68" stroke="#c9687a" stroke-width="1.1" stroke-dasharray="1,0.8"/>
<text x="208.51" y="265.98" font-size="6.9" textLength="49.50" lengthAdjust="spacingAndGlyphs">CMML MSCs sEVs</text>
<line x1="196" y1="274.5" x2="205.2" y2="274.5" stroke="#9fcf8a" stroke-width="1.1" stroke-dasharray="1,0.8"/>
<text x="208.33" y="276.8" font-size="6.9" textLength="40.38" lengthAdjust="spacingAndGlyphs">HD MSCs sEVs</text>
<text x="327.80" y="180" font-size="9.5" textLength="119.53" lengthAdjust="spacingAndGlyphs">TGA results - monocytes EVs</text>
<text x="333.59" y="210.7" font-size="8.3" textLength="92.92" lengthAdjust="spacingAndGlyphs" stroke="#231f20" stroke-width="0.08">TGA curves - monocytes EVs</text>
<line x1="326.5" y1="217" x2="326.5" y2="290.6" stroke="#231f20" stroke-width="1.4"/>
<line x1="323.1" y1="218.8" x2="326.5" y2="218.8" stroke="#231f20" stroke-width="1"/>
<text x="320.4" y="221.14" font-size="6.8" text-anchor="end">80</text>
<line x1="323.1" y1="236.6" x2="326.5" y2="236.6" stroke="#231f20" stroke-width="1"/>
<text x="320.4" y="238.94" font-size="6.8" text-anchor="end">60</text>
<line x1="323.1" y1="254.4" x2="326.5" y2="254.4" stroke="#231f20" stroke-width="1"/>
<text x="320.4" y="256.74" font-size="6.8" text-anchor="end">40</text>
<line x1="323.1" y1="272.2" x2="326.5" y2="272.2" stroke="#231f20" stroke-width="1"/>
<text x="320.4" y="274.54" font-size="6.8" text-anchor="end">20</text>
<line x1="323.1" y1="290" x2="326.5" y2="290" stroke="#231f20" stroke-width="1"/>
<text x="320.4" y="292.34" font-size="6.8" text-anchor="end">0</text>
<line x1="325.9" y1="290" x2="433" y2="290" stroke="#231f20" stroke-width="1.4"/>
<line x1="326.6" y1="290" x2="326.6" y2="292.8" stroke="#231f20" stroke-width="1"/>
<text x="326.6" y="301.2" font-size="6.8" text-anchor="middle">0</text>
<line x1="356.5" y1="290" x2="356.5" y2="292.8" stroke="#231f20" stroke-width="1"/>
<text x="356.5" y="301.2" font-size="6.8" text-anchor="middle">20</text>
<line x1="386.6" y1="290" x2="386.6" y2="292.8" stroke="#231f20" stroke-width="1"/>
<text x="386.6" y="301.2" font-size="6.8" text-anchor="middle">40</text>
<line x1="417" y1="290" x2="417" y2="292.8" stroke="#231f20" stroke-width="1"/>
<text x="417" y="301.2" font-size="6.8" text-anchor="middle">60</text>
<text transform="translate(306.2,264.2) rotate(-90)" x="-0.78" y="0" font-size="9.6" textLength="29.00" lengthAdjust="spacingAndGlyphs">IIa (nM)</text>
<text x="351.71" y="313" font-size="9.3" textLength="56.52" lengthAdjust="spacingAndGlyphs">Time (minutes)</text>
<path d="M326.6,289.9 L327.2,289.8 L327.8,289.8 L328.4,289.9 L329.0,290.0 L329.6,289.9 L330.2,289.8 L330.8,289.8 L331.4,290.0 L332.0,289.5 L332.6,289.9 L333.2,289.7 L333.8,290.0 L334.4,289.7 L335.0,289.8 L335.6,289.6 L336.2,289.8 L336.8,289.9 L337.4,290.0 L338.0,289.6 L338.6,289.7 L339.2,290.4 L339.8,289.9 L340.4,289.8 L341.0,289.8 L341.6,289.4 L342.2,290.0 L342.8,289.8 L343.4,289.5 L344.0,289.9 L344.6,289.7 L345.2,289.6 L345.8,289.8 L346.4,289.8 L347.0,289.7 L347.6,289.7 L348.2,289.5 L348.8,289.5 L349.4,289.8 L350.0,289.9 L350.6,289.8 L351.2,289.7 L351.8,289.6 L352.4,289.7 L353.0,289.5 L353.6,289.9 L354.2,289.6 L354.8,289.7 L355.4,289.6 L356.0,289.4 L356.6,289.9 L357.2,289.6 L357.8,289.5 L358.4,289.6 L359.0,289.4 L359.6,289.5 L360.2,289.2 L360.8,289.3 L361.4,288.7 L362.0,286.7 L362.6,285.2 L363.2,283.0 L363.8,280.9 L364.4,279.4 L365.0,278.1 L365.6,277.2 L366.2,276.0 L366.8,275.5 L367.4,274.7 L368.0,274.3 L368.6,273.9 L369.2,273.6 L369.8,273.5 L370.4,273.2 L371.0,273.1 L371.6,273.5 L372.2,273.5 L372.8,273.7 L373.4,274.0 L374.0,274.1 L374.6,274.6 L375.2,274.8 L375.8,275.3 L376.4,275.9 L377.0,276.4 L377.6,276.8 L378.2,277.3 L378.8,277.6 L379.4,277.9 L380.0,278.4 L380.6,278.8 L381.2,279.0 L381.8,279.4 L382.4,279.9 L383.0,280.2 L383.6,280.2 L384.2,280.6 L384.8,280.8 L385.4,281.1 L386.0,281.4 L386.6,281.6 L387.2,281.9 L387.8,282.1 L388.4,282.3 L389.0,282.7 L389.6,283.0 L390.2,283.3 L390.8,283.4 L391.4,283.7 L392.0,284.1 L392.6,283.9 L393.2,284.2 L393.8,284.6 L394.4,284.7 L395.0,284.7 L395.6,285.2 L396.2,285.2 L396.8,285.2 L397.4,285.8 L398.0,285.5 L398.6,285.8 L399.2,285.8 L399.8,286.1 L400.4,286.3 L401.0,286.2 L401.6,286.4 L402.2,286.5 L402.8,286.5 L403.4,287.0 L404.0,286.9 L404.6,287.0 L405.2,287.0 L405.8,287.2 L406.4,287.4 L407.0,287.4 L407.6,287.7 L408.2,287.2 L408.8,287.4 L409.4,287.7 L410.0,287.6 L410.6,287.9 L411.2,287.9 L411.8,288.2 L412.4,288.2 L413.0,288.4 L413.6,288.4 L414.2,288.5 L414.8,288.5 L415.4,288.6 L416.0,288.6 L416.6,288.5 L417.2,288.4 L417.8,288.5 L418.4,288.8 L419.0,288.4 L419.6,288.8 L420.2,288.7 L420.8,289.0 L421.4,289.0 L422.0,288.9 L422.6,289.0 L423.2,288.7 L423.8,289.1 L424.4,289.2 L425.0,288.9 L425.6,289.3 L426.2,289.2 L426.8,289.3 L427.4,289.1 L428.0,289.4 L428.6,289.4 L429.2,289.4 L429.8,289.2 L430.4,289.5 L431.0,289.6 L431.6,289.5 L432.2,289.6 L432.8,289.4 L433.0,289.5" fill="none" stroke="#9fcf8a" stroke-width="0.9" stroke-linejoin="round" stroke-dasharray="1,0.8"/>
<path d="M326.6,289.9 L327.2,289.8 L327.8,290.4 L328.4,289.9 L329.0,289.7 L329.6,290.0 L330.2,289.6 L330.8,289.9 L331.4,290.0 L332.0,289.7 L332.6,289.7 L333.2,289.6 L333.8,289.8 L334.4,289.7 L335.0,290.1 L335.6,289.9 L336.2,289.8 L336.8,289.5 L337.4,290.2 L338.0,290.1 L338.6,289.9 L339.2,289.8 L339.8,289.8 L340.4,289.7 L341.0,290.2 L341.6,289.8 L342.2,289.5 L342.8,289.6 L343.4,289.2 L344.0,289.9 L344.6,289.9 L345.2,290.1 L345.8,290.2 L346.4,289.6 L347.0,289.8 L347.6,289.9 L348.2,289.9 L348.8,289.6 L349.4,289.9 L350.0,289.8 L350.6,290.0 L351.2,289.7 L351.8,289.7 L352.4,289.6 L353.0,289.6 L353.6,289.5 L354.2,289.6 L354.8,289.8 L355.4,289.8 L356.0,289.9 L356.6,289.9 L357.2,289.8 L357.8,289.4 L358.4,289.8 L359.0,289.9 L359.6,289.4 L360.2,289.4 L360.8,289.4 L361.4,289.4 L362.0,289.5 L362.6,289.4 L363.2,289.6 L363.8,289.3 L364.4,289.5 L365.0,289.4 L365.6,289.3 L366.2,289.7 L366.8,289.5 L367.4,289.5 L368.0,289.3 L368.6,289.5 L369.2,289.4 L369.8,289.1 L370.4,288.5 L371.0,288.5 L371.6,287.6 L372.2,286.8 L372.8,285.9 L373.4,284.7 L374.0,282.9 L374.6,280.7 L375.2,278.6 L375.8,276.3 L376.4,274.1 L377.0,272.2 L377.6,271.2 L378.2,269.6 L378.8,268.3 L379.4,267.4 L380.0,266.3 L380.6,266.2 L381.2,266.1 L381.8,266.4 L382.4,265.9 L383.0,266.6 L383.6,267.5 L384.2,267.8 L384.8,268.5 L385.4,269.4 L386.0,269.9 L386.6,270.5 L387.2,271.3 L387.8,272.0 L388.4,272.2 L389.0,273.3 L389.6,273.3 L390.2,274.1 L390.8,275.5 L391.4,275.3 L392.0,276.1 L392.6,276.3 L393.2,277.0 L393.8,277.4 L394.4,277.9 L395.0,278.6 L395.6,279.2 L396.2,279.5 L396.8,280.0 L397.4,280.0 L398.0,280.8 L398.6,281.0 L399.2,281.6 L399.8,281.6 L400.4,281.9 L401.0,282.5 L401.6,282.7 L402.2,282.8 L402.8,282.9 L403.4,283.2 L404.0,283.6 L404.6,283.8 L405.2,283.8 L405.8,284.0 L406.4,284.4 L407.0,284.3 L407.6,284.9 L408.2,284.9 L408.8,285.1 L409.4,284.8 L410.0,285.2 L410.6,285.5 L411.2,285.8 L411.8,285.9 L412.4,286.3 L413.0,286.4 L413.6,286.5 L414.2,286.3 L414.8,287.2 L415.4,287.0 L416.0,287.3 L416.6,287.2 L417.2,287.4 L417.8,287.7 L418.4,287.7 L419.0,288.0 L419.6,287.9 L420.2,288.4 L420.8,287.8 L421.4,288.1 L422.0,288.6 L422.6,288.4 L423.2,288.5 L423.8,288.3 L424.4,289.0 L425.0,288.4 L425.6,289.0 L426.2,289.0 L426.8,289.2 L427.4,289.3 L428.0,289.0 L428.6,289.0 L429.2,289.2 L429.8,288.9 L430.4,289.5 L431.0,289.3 L431.6,289.4 L432.2,289.2 L432.8,289.5 L433.1,289.4" fill="none" stroke="#72a8da" stroke-width="1.1" stroke-linejoin="round"/>
<path d="M326.6,289.8 L327.2,289.7 L327.8,289.9 L328.4,289.7 L329.0,289.5 L329.6,289.9 L330.2,289.8 L330.8,289.7 L331.4,290.0 L332.0,289.8 L332.6,289.6 L333.2,289.7 L333.8,289.8 L334.4,289.7 L335.0,289.8 L335.6,289.8 L336.2,289.6 L336.8,289.6 L337.4,289.5 L338.0,289.2 L338.6,288.9 L339.2,288.8 L339.8,288.4 L340.4,287.8 L341.0,287.4 L341.6,286.8 L342.2,285.9 L342.8,284.7 L343.4,283.5 L344.0,281.8 L344.6,280.1 L345.2,278.0 L345.8,275.1 L346.4,272.6 L347.0,270.3 L347.6,268.2 L348.2,266.4 L348.8,265.0 L349.4,263.6 L350.0,262.7 L350.6,262.0 L351.2,261.2 L351.8,260.8 L352.4,260.5 L353.0,260.8 L353.6,260.8 L354.2,261.1 L354.8,261.6 L355.4,262.2 L356.0,262.7 L356.6,263.3 L357.2,264.2 L357.8,264.7 L358.4,265.6 L359.0,266.6 L359.6,267.5 L360.2,267.9 L360.8,268.8 L361.4,269.2 L362.0,270.0 L362.6,270.5 L363.2,271.0 L363.8,271.7 L364.4,272.3 L365.0,272.7 L365.6,273.6 L366.2,274.0 L366.8,274.7 L367.4,275.2 L368.0,275.7 L368.6,276.4 L369.2,277.1 L369.8,277.9 L370.4,278.6 L371.0,279.0 L371.6,279.4 L372.2,279.7 L372.8,280.2 L373.4,280.7 L374.0,280.8 L374.6,281.5 L375.2,281.8 L375.8,282.2 L376.4,282.2 L377.0,282.5 L377.6,282.8 L378.2,282.9 L378.8,283.2 L379.4,283.5 L380.0,283.8 L380.6,284.1 L381.2,284.4 L381.8,284.4 L382.4,284.5 L383.0,284.9 L383.6,285.0 L384.2,285.3 L384.8,285.5 L385.4,285.5 L386.0,285.8 L386.6,285.8 L387.2,286.1 L387.8,286.3 L388.4,286.4 L389.0,286.6 L389.6,286.6 L390.2,286.8 L390.8,287.0 L391.4,287.1 L392.0,287.2 L392.6,287.7 L393.2,287.6 L393.8,287.5 L394.4,287.6 L395.0,287.9 L395.6,287.6 L396.2,287.9 L396.8,288.1 L397.4,288.0 L398.0,288.2 L398.6,288.1 L399.2,288.3 L399.8,288.4 L400.4,288.4 L401.0,288.5 L401.6,288.5 L402.2,288.7 L402.8,288.6 L403.4,288.6 L404.0,288.7 L404.6,288.7 L405.2,288.6 L405.8,288.6 L406.4,288.7 L407.0,288.9 L407.6,288.9 L408.2,288.9 L408.8,289.3 L409.4,289.1 L410.0,289.0 L410.6,289.0 L411.2,289.3 L411.8,289.1 L412.4,289.3 L413.0,289.3 L413.6,289.4 L414.2,289.2 L414.8,289.4 L415.4,289.1 L416.0,289.3 L416.6,289.4 L417.2,289.4 L417.8,289.2 L418.4,289.5 L419.0,289.4 L419.6,289.4 L420.2,289.3 L420.8,289.4 L421.4,289.4 L422.0,289.6 L422.6,289.5 L423.2,289.6 L423.8,289.6 L424.4,289.4 L425.0,289.5 L425.6,289.7 L426.2,289.4 L426.8,289.6 L427.4,289.5 L428.0,289.5 L428.6,289.6 L429.2,289.7 L429.8,289.6 L430.4,289.6 L431.0,289.7 L431.6,289.4 L432.2,289.7 L432.8,289.6 L433.0,289.6" fill="none" stroke="#6d4378" stroke-width="1.2" stroke-linejoin="round"/>
<path d="M326.6,289.8 L327.2,289.7 L327.8,290.0 L328.4,289.7 L329.0,289.6 L329.6,289.8 L330.2,289.7 L330.8,289.8 L331.4,290.0 L332.0,289.7 L332.6,289.8 L333.2,290.1 L333.8,289.5 L334.4,289.8 L335.0,289.9 L335.6,289.5 L336.2,288.2 L336.8,285.0 L337.4,281.9 L338.0,277.6 L338.6,272.9 L339.2,268.8 L339.8,265.2 L340.4,262.1 L341.0,259.1 L341.6,256.1 L342.2,254.0 L342.8,251.8 L343.4,250.0 L344.0,248.6 L344.6,248.4 L345.2,247.7 L345.8,247.2 L346.4,247.3 L347.0,247.4 L347.6,248.1 L348.2,248.6 L348.8,249.5 L349.4,250.5 L350.0,251.5 L350.6,252.9 L351.2,254.7 L351.8,256.1 L352.4,258.0 L353.0,259.7 L353.6,260.7 L354.2,262.3 L354.8,263.4 L355.4,264.6 L356.0,265.5 L356.6,266.7 L357.2,267.7 L357.8,268.9 L358.4,269.6 L359.0,270.5 L359.6,271.1 L360.2,272.2 L360.8,273.0 L361.4,274.1 L362.0,275.2 L362.6,276.2 L363.2,277.1 L363.8,277.8 L364.4,278.5 L365.0,279.3 L365.6,279.6 L366.2,280.3 L366.8,281.0 L367.4,281.2 L368.0,281.8 L368.6,282.2 L369.2,282.7 L369.8,283.0 L370.4,282.9 L371.0,283.5 L371.6,283.8 L372.2,284.2 L372.8,284.4 L373.4,284.9 L374.0,285.0 L374.6,284.9 L375.2,285.2 L375.8,285.2 L376.4,286.0 L377.0,285.9 L377.6,286.1 L378.2,286.1 L378.8,286.5 L379.4,286.8 L380.0,286.8 L380.6,286.9 L381.2,287.0 L381.8,287.6 L382.4,287.3 L383.0,287.3 L383.6,287.5 L384.2,287.6 L384.8,287.7 L385.4,287.8 L386.0,287.8 L386.6,288.0 L387.2,288.1 L387.8,287.9 L388.4,288.5 L389.0,288.5 L389.6,288.0 L390.2,288.3 L390.8,288.6 L391.4,288.7 L392.0,288.8 L392.6,288.3 L393.2,288.4 L393.8,288.6 L394.4,288.8 L395.0,288.6 L395.6,288.8 L396.2,288.9 L396.8,289.0 L397.4,288.7 L398.0,289.0 L398.6,289.0 L399.2,288.9 L399.8,289.2 L400.4,289.0 L401.0,289.3 L401.6,289.0 L402.2,289.4 L402.8,289.4 L403.4,289.0 L404.0,289.2 L404.6,289.2 L405.2,289.1 L405.8,289.3 L406.4,289.3 L407.0,289.1 L407.6,289.3 L408.2,289.4 L408.8,289.3 L409.4,289.2 L410.0,289.6 L410.6,289.2 L411.2,289.4 L411.8,289.5 L412.4,289.5 L413.0,289.1 L413.6,289.3 L414.2,289.4 L414.8,289.4 L415.4,289.5 L416.0,289.5 L416.6,289.5 L417.2,289.5 L417.8,289.6 L418.4,289.7 L419.0,289.2 L419.6,289.8 L420.2,289.4 L420.8,289.6 L421.4,289.3 L422.0,289.5 L422.6,289.3 L423.2,289.7 L423.8,289.7 L424.4,289.6 L425.0,289.5 L425.6,289.6 L426.2,289.4 L426.8,289.5 L427.4,289.5 L428.0,289.7 L428.6,289.6 L429.2,289.4 L429.8,289.6 L430.4,289.7 L431.0,289.8 L431.6,289.5 L432.2,289.7 L432.8,289.9 L433.0,289.5" fill="none" stroke="#72ae55" stroke-width="1.1" stroke-linejoin="round"/>
<path d="M326.6,289.8 L327.2,289.9 L327.8,289.7 L328.4,289.8 L329.0,289.7 L329.6,289.7 L330.2,289.9 L330.8,289.8 L331.4,289.7 L332.0,289.8 L332.6,289.8 L333.2,289.8 L333.8,289.9 L334.4,290.0 L335.0,289.6 L335.6,289.7 L336.2,289.6 L336.8,289.8 L337.4,289.8 L338.0,289.7 L338.6,289.6 L339.2,289.6 L339.8,289.6 L340.4,289.8 L341.0,289.9 L341.6,289.5 L342.2,289.8 L342.8,289.6 L343.4,289.5 L344.0,289.7 L344.6,289.3 L345.2,287.5 L345.8,282.2 L346.4,276.2 L347.0,269.1 L347.6,261.1 L348.2,253.1 L348.8,245.1 L349.4,237.1 L350.0,232.6 L350.6,230.3 L351.2,228.6 L351.8,227.5 L352.4,228.0 L353.0,230.3 L353.6,233.0 L354.2,236.5 L354.8,240.7 L355.4,245.7 L356.0,250.3 L356.6,255.4 L357.2,260.1 L357.8,264.7 L358.4,267.9 L359.0,271.0 L359.6,273.5 L360.2,275.8 L360.8,277.4 L361.4,279.0 L362.0,280.3 L362.6,281.4 L363.2,282.5 L363.8,283.3 L364.4,284.1 L365.0,284.7 L365.6,285.5 L366.2,285.7 L366.8,286.2 L367.4,286.7 L368.0,287.1 L368.6,287.5 L369.2,287.8 L369.8,288.0 L370.4,288.2 L371.0,288.4 L371.6,288.7 L372.2,288.6 L372.8,289.1 L373.4,289.1 L374.0,289.2 L374.6,289.3 L375.2,289.3 L375.8,289.2 L376.4,289.3 L377.0,289.5 L377.6,289.4 L378.2,289.5 L378.8,289.3 L379.4,289.3 L380.0,289.5 L380.6,289.5 L381.2,289.4 L381.8,289.3 L382.4,289.2 L383.0,289.5 L383.6,289.2 L384.2,289.5 L384.8,289.5 L385.4,289.8 L386.0,289.4 L386.6,289.4 L387.2,289.5 L387.8,289.5 L388.4,289.6 L389.0,289.5 L389.6,289.4 L390.2,289.2 L390.8,289.5 L391.4,289.4 L392.0,289.6 L392.6,289.3 L393.2,289.5 L393.8,289.4 L394.4,289.4 L395.0,289.7 L395.6,289.5 L396.2,289.5 L396.8,289.6 L397.4,289.4 L398.0,289.5 L398.6,289.5 L399.2,289.7 L399.8,289.6 L400.4,289.6 L401.0,289.7 L401.6,289.5 L402.2,289.5 L402.8,289.4 L403.4,289.6 L404.0,289.6 L404.6,289.5 L405.2,289.7 L405.8,289.4 L406.4,289.6 L407.0,289.4 L407.6,289.4 L408.2,289.5 L408.8,289.7 L409.4,289.4 L410.0,289.5 L410.6,289.4 L411.2,289.8 L411.8,289.6 L412.4,289.6 L413.0,289.8 L413.6,289.6 L414.2,289.4 L414.8,289.5 L415.4,289.5 L416.0,289.8 L416.6,289.4 L417.2,289.6 L417.8,289.5 L418.4,289.5 L419.0,289.6 L419.6,289.6 L420.2,289.5 L420.8,289.5 L421.4,289.5 L422.0,289.5 L422.6,289.5 L423.2,289.6 L423.8,289.6 L424.4,289.6 L425.0,289.6 L425.6,289.8 L426.2,289.5 L426.8,289.5 L427.4,289.7 L428.0,289.5 L428.6,289.6 L429.2,289.7 L429.8,289.6 L430.4,289.6 L431.0,289.7 L431.6,289.6 L432.2,289.5 L432.8,289.5 L433.0,289.6" fill="none" stroke="#c9687a" stroke-width="0.9" stroke-linejoin="round" stroke-dasharray="1,0.8"/>
<path d="M326.6,289.5 L327.2,289.7 L327.8,289.6 L328.4,289.8 L329.0,289.9 L329.6,289.7 L330.2,289.7 L330.8,289.6 L331.4,289.5 L332.0,289.7 L332.6,289.8 L333.2,289.8 L333.8,289.8 L334.4,289.6 L335.0,289.1 L335.6,289.2 L336.2,287.7 L336.8,285.1 L337.4,280.0 L338.0,273.3 L338.6,266.8 L339.2,258.7 L339.8,251.2 L340.4,244.7 L341.0,239.3 L341.6,235.5 L342.2,233.1 L342.8,231.8 L343.4,232.6 L344.0,233.5 L344.6,235.1 L345.2,237.7 L345.8,240.6 L346.4,244.5 L347.0,248.0 L347.6,251.8 L348.2,255.2 L348.8,259.0 L349.4,263.0 L350.0,266.1 L350.6,268.7 L351.2,271.1 L351.8,273.1 L352.4,274.6 L353.0,276.0 L353.6,277.2 L354.2,278.3 L354.8,279.6 L355.4,280.0 L356.0,280.9 L356.6,281.3 L357.2,282.0 L357.8,282.8 L358.4,283.3 L359.0,283.7 L359.6,284.1 L360.2,284.4 L360.8,284.9 L361.4,285.3 L362.0,285.9 L362.6,286.4 L363.2,286.6 L363.8,286.8 L364.4,287.0 L365.0,287.5 L365.6,287.6 L366.2,287.5 L366.8,288.2 L367.4,288.1 L368.0,288.2 L368.6,288.2 L369.2,288.4 L369.8,288.8 L370.4,288.6 L371.0,288.8 L371.6,289.0 L372.2,289.3 L372.8,289.2 L373.4,289.1 L374.0,289.1 L374.6,289.3 L375.2,289.4 L375.8,289.2 L376.4,289.4 L377.0,289.3 L377.6,289.1 L378.2,289.2 L378.8,289.5 L379.4,289.6 L380.0,289.5 L380.6,289.4 L381.2,289.3 L381.8,289.6 L382.4,289.5 L383.0,289.3 L383.6,289.6 L384.2,289.4 L384.8,289.7 L385.4,289.6 L386.0,289.7 L386.6,289.7 L387.2,289.7 L387.8,289.4 L388.4,289.4 L389.0,289.8 L389.6,289.7 L390.2,289.4 L390.8,289.3 L391.4,289.7 L392.0,289.9 L392.6,289.7 L393.2,289.6 L393.8,289.6 L394.4,289.2 L395.0,289.4 L395.6,289.8 L396.2,289.7 L396.8,289.3 L397.4,289.8 L398.0,289.7 L398.6,289.7 L399.2,289.6 L399.8,289.6 L400.4,289.4 L401.0,289.7 L401.6,289.7 L402.2,289.5 L402.8,289.7 L403.4,289.5 L404.0,289.8 L404.6,289.8 L405.2,289.2 L405.8,289.7 L406.4,289.8 L407.0,289.5 L407.6,289.6 L408.2,289.6 L408.8,289.4 L409.4,289.6 L410.0,289.8 L410.6,289.7 L411.2,289.8 L411.8,289.8 L412.4,289.8 L413.0,289.6 L413.6,289.7 L414.2,289.9 L414.8,289.8 L415.4,289.7 L416.0,289.5 L416.6,289.5 L417.2,289.6 L417.8,289.7 L418.4,289.3 L419.0,289.6 L419.6,289.7 L420.2,289.6 L420.8,289.5 L421.4,290.0 L422.0,289.7 L422.6,289.4 L423.2,289.5 L423.8,289.7 L424.4,289.7 L425.0,289.6 L425.6,289.6 L426.2,289.6 L426.8,289.5 L427.4,289.4 L428.0,289.7 L428.6,289.2 L429.2,289.5 L429.8,289.8 L430.4,289.5 L431.0,289.4 L431.6,289.9 L432.2,289.8 L432.8,289.6 L433.0,289.5" fill="none" stroke="#ae3450" stroke-width="1.1" stroke-linejoin="round"/>
<line x1="443" y1="217.5" x2="452.2" y2="217.5" stroke="#72a8da" stroke-width="1.1"/>
<text x="454.59" y="219.8" font-size="6.9" textLength="13.69" lengthAdjust="spacingAndGlyphs">MPR</text>
<line x1="443" y1="228.22" x2="452.2" y2="228.22" stroke="#6d4378" stroke-width="1.1"/>
<text x="454.58" y="230.52" font-size="6.9" textLength="26.93" lengthAdjust="spacingAndGlyphs">FT 0.5pM</text>
<line x1="443" y1="238.94" x2="452.2" y2="238.94" stroke="#ae3450" stroke-width="1.1"/>
<text x="454.78" y="241.24" font-size="6.9" textLength="54.14" lengthAdjust="spacingAndGlyphs">CMML Mono mEVs</text>
<line x1="443" y1="249.66" x2="452.2" y2="249.66" stroke="#72ae55" stroke-width="1.1"/>
<text x="454.59" y="251.96" font-size="6.9" textLength="49.63" lengthAdjust="spacingAndGlyphs">Reac Mono mEVs</text>
<line x1="443" y1="260.38" x2="452.2" y2="260.38" stroke="#c9687a" stroke-width="1.1" stroke-dasharray="1,0.8"/>
<text x="454.79" y="262.68" font-size="6.9" textLength="51.54" lengthAdjust="spacingAndGlyphs">CMML Mono sEVs</text>
<line x1="443" y1="271.1" x2="452.2" y2="271.1" stroke="#9fcf8a" stroke-width="1.1" stroke-dasharray="1,0.8"/>
<text x="454.61" y="273.4" font-size="6.9" textLength="46.61" lengthAdjust="spacingAndGlyphs">Reac Mono sEVs</text>
<text x="110.35" y="355.6" font-size="8" textLength="28.00" lengthAdjust="spacingAndGlyphs" stroke="#231f20" stroke-width="0.12">Lagtime</text>
<rect x="55" y="434" width="18" height="15.6" fill="#6e4a6e" stroke="#5e3160" stroke-width="0.6"/>
<clipPath id="c1"><rect x="96.5" y="411.6" width="17.5" height="38"/></clipPath>
<rect x="96.5" y="411.6" width="17.5" height="38" fill="#9c1c33"/>
<path clip-path="url(#c1)" d="M53.50,450.60L93.50,410.60M58.20,450.60L98.20,410.60M62.90,450.60L102.90,410.60M67.60,450.60L107.60,410.60M72.30,450.60L112.30,410.60M77.00,450.60L117.00,410.60M81.70,450.60L121.70,410.60M86.40,450.60L126.40,410.60M91.10,450.60L131.10,410.60M95.80,450.60L135.80,410.60M100.50,450.60L140.50,410.60M105.20,450.60L145.20,410.60M109.90,450.60L149.90,410.60M114.60,450.60L154.60,410.60" stroke="#fff" stroke-width="1.2" fill="none"/>
<clipPath id="c2"><rect x="121" y="389.6" width="18" height="60"/></clipPath>
<rect x="121" y="389.6" width="18" height="60" fill="#6aa63e"/>
<path clip-path="url(#c2)" d="M56.00,450.60L118.00,388.60M60.70,450.60L122.70,388.60M65.40,450.60L127.40,388.60M70.10,450.60L132.10,388.60M74.80,450.60L136.80,388.60M79.50,450.60L141.50,388.60M84.20,450.60L146.20,388.60M88.90,450.60L150.90,388.60M93.60,450.60L155.60,388.60M98.30,450.60L160.30,388.60M103.00,450.60L165.00,388.60M107.70,450.60L169.70,388.60M112.40,450.60L174.40,388.60M117.10,450.60L179.10,388.60M121.80,450.60L183.80,388.60M126.50,450.60L188.50,388.60M131.20,450.60L193.20,388.60M135.90,450.60L197.90,388.60M140.60,450.60L202.60,388.60" stroke="#fff" stroke-width="1.2" fill="none"/>
<rect x="154.4" y="423.6" width="17.6" height="26" fill="#a03446" stroke="#98233a" stroke-width="0.6"/>
<rect x="179.4" y="382.6" width="17.6" height="67" fill="#78a85b" stroke="#6aa04a" stroke-width="0.6"/>
<line x1="105.5" y1="407.8" x2="105.5" y2="411.6" stroke="#231f20" stroke-width="0.9"/>
<line x1="100.7" y1="407.8" x2="110.3" y2="407.8" stroke="#231f20" stroke-width="1.1"/>
<line x1="130.5" y1="377.8" x2="130.5" y2="389.6" stroke="#231f20" stroke-width="0.9"/>
<line x1="125.9" y1="377.8" x2="135.1" y2="377.8" stroke="#231f20" stroke-width="1.1"/>
<line x1="163.5" y1="421.6" x2="163.5" y2="423.6" stroke="#231f20" stroke-width="0.9"/>
<line x1="159.1" y1="421.6" x2="167.9" y2="421.6" stroke="#231f20" stroke-width="1.1"/>
<line x1="187.8" y1="373.6" x2="187.8" y2="382.6" stroke="#231f20" stroke-width="0.9"/>
<line x1="183" y1="373.6" x2="192.6" y2="373.6" stroke="#231f20" stroke-width="1.1"/>
<path d="M105.5,405.6 L105.5,372.5 L130.5,372.5 L130.5,375.6" fill="none" stroke="#231f20" stroke-width="1" stroke-linejoin="round"/>
<text x="114.28" y="370" font-size="5" textLength="6.65" lengthAdjust="spacingAndGlyphs">ns</text>
<path d="M163.5,419.4 L163.5,368.5 L187.8,368.5 L187.8,371.4" fill="none" stroke="#231f20" stroke-width="1" stroke-linejoin="round"/>
<text x="175.8" y="368.4" font-size="5.4" text-anchor="middle">**</text>
<line x1="54" y1="414.5" x2="204" y2="414.5" stroke="#a9c6e8" stroke-width="0.9" stroke-dasharray="1.6,0.8"/>
<text x="64.14" y="397.8" font-size="5.7" textLength="22.11" lengthAdjust="spacingAndGlyphs" fill="#7eaad8">Negative</text>
<text x="61.13" y="404.6" font-size="5.7" textLength="30.11" lengthAdjust="spacingAndGlyphs" fill="#7eaad8">Control MPR</text>
<line x1="51.8" y1="366" x2="51.8" y2="450.2" stroke="#231f20" stroke-width="1.4"/>
<line x1="48.4" y1="373.4" x2="51.8" y2="373.4" stroke="#231f20" stroke-width="1"/>
<text x="45.4" y="375.95" font-size="7.4" text-anchor="end">5</text>
<line x1="48.4" y1="388.6" x2="51.8" y2="388.6" stroke="#231f20" stroke-width="1"/>
<text x="45.4" y="391.15" font-size="7.4" text-anchor="end">4</text>
<line x1="48.4" y1="403.9" x2="51.8" y2="403.9" stroke="#231f20" stroke-width="1"/>
<text x="45.4" y="406.45" font-size="7.4" text-anchor="end">3</text>
<line x1="48.4" y1="419.1" x2="51.8" y2="419.1" stroke="#231f20" stroke-width="1"/>
<text x="45.4" y="421.65" font-size="7.4" text-anchor="end">2</text>
<line x1="48.4" y1="434.4" x2="51.8" y2="434.4" stroke="#231f20" stroke-width="1"/>
<text x="45.4" y="436.95" font-size="7.4" text-anchor="end">1</text>
<line x1="48.4" y1="449.6" x2="51.8" y2="449.6" stroke="#231f20" stroke-width="1"/>
<text x="45.4" y="452.15" font-size="7.4" text-anchor="end">0</text>
<line x1="51.2" y1="449.6" x2="201.2" y2="449.6" stroke="#231f20" stroke-width="1.4"/>
<line x1="64" y1="449.6" x2="64" y2="452.4" stroke="#231f20" stroke-width="1"/>
<line x1="105.5" y1="449.6" x2="105.5" y2="452.4" stroke="#231f20" stroke-width="1"/>
<line x1="130.5" y1="449.6" x2="130.5" y2="452.4" stroke="#231f20" stroke-width="1"/>
<line x1="163.5" y1="449.6" x2="163.5" y2="452.4" stroke="#231f20" stroke-width="1"/>
<line x1="187.8" y1="449.6" x2="187.8" y2="452.4" stroke="#231f20" stroke-width="1"/>
<text transform="translate(36.6,431.1) rotate(-90)" x="-0.72" y="0" font-size="9.7" textLength="48.00" lengthAdjust="spacingAndGlyphs">Fold change</text>
<text x="50.46" y="461.7" font-size="6.3" textLength="28.04" lengthAdjust="spacingAndGlyphs">TF 0.5 pM</text>
<text x="54.60" y="469.5" font-size="6.3" textLength="18.80" lengthAdjust="spacingAndGlyphs">(n=12)</text>
<text x="95.99" y="461.7" font-size="6.3" textLength="18.01" lengthAdjust="spacingAndGlyphs">CMML</text>
<text x="125.76" y="461.7" font-size="6.3" textLength="9.56" lengthAdjust="spacingAndGlyphs">HD</text>
<text x="154.20" y="461.7" font-size="6.3" textLength="17.29" lengthAdjust="spacingAndGlyphs">CMML</text>
<text x="183.29" y="461.7" font-size="6.3" textLength="9.01" lengthAdjust="spacingAndGlyphs">HD</text>
<path d="M96.3,466.9 L96.3,469.5 L139.3,469.5 L139.3,466.9" fill="none" stroke="#231f20" stroke-width="1" stroke-linejoin="round"/>
<path d="M154.3,466.9 L154.3,469.5 L196.3,469.5 L196.3,466.9" fill="none" stroke="#231f20" stroke-width="1" stroke-linejoin="round"/>
<text x="100.81" y="479.3" font-size="6.3" textLength="33.91" lengthAdjust="spacingAndGlyphs">MSCs mEVs</text>
<text x="97.60" y="487.2" font-size="6.3" textLength="40.32" lengthAdjust="spacingAndGlyphs">(n=5) for each</text>
<text x="160.85" y="479.3" font-size="6.3" textLength="29.35" lengthAdjust="spacingAndGlyphs">MSCs sEVs</text>
<text x="155.90" y="487.2" font-size="6.3" textLength="39.99" lengthAdjust="spacingAndGlyphs">(n=5 for each)</text>
<text x="66.83" y="539" font-size="8" textLength="50.76" lengthAdjust="spacingAndGlyphs" stroke="#231f20" stroke-width="0.12">Thrombin peak</text>
<rect x="56.5" y="564.8" width="24.7" height="80.5" fill="#a03446" stroke="#98233a" stroke-width="0.6"/>
<rect x="103" y="595.4" width="24.6" height="49.9" fill="#6e4a6e" stroke="#5e3160" stroke-width="0.6"/>
<line x1="69" y1="553.6" x2="69" y2="564.8" stroke="#231f20" stroke-width="0.9"/>
<line x1="62.8" y1="553.6" x2="75.2" y2="553.6" stroke="#231f20" stroke-width="1.1"/>
<path d="M68.8,550.5 L68.8,547.5 L115.5,547.5 L115.5,593" fill="none" stroke="#231f20" stroke-width="1" stroke-linejoin="round"/>
<text x="92.6" y="546.6" font-size="5.6" text-anchor="middle">*</text>
<line x1="51.8" y1="544.4" x2="51.8" y2="645.9" stroke="#231f20" stroke-width="1.4"/>
<line x1="48.4" y1="547" x2="51.8" y2="547" stroke="#231f20" stroke-width="1"/>
<text x="45.3" y="549.13" font-size="6.2" text-anchor="end">2.0</text>
<line x1="48.4" y1="571.6" x2="51.8" y2="571.6" stroke="#231f20" stroke-width="1"/>
<text x="45.3" y="573.73" font-size="6.2" text-anchor="end">1.5</text>
<line x1="48.4" y1="596.2" x2="51.8" y2="596.2" stroke="#231f20" stroke-width="1"/>
<text x="45.3" y="598.33" font-size="6.2" text-anchor="end">1.0</text>
<line x1="48.4" y1="620.7" x2="51.8" y2="620.7" stroke="#231f20" stroke-width="1"/>
<text x="45.3" y="622.83" font-size="6.2" text-anchor="end">0.5</text>
<line x1="48.4" y1="645.3" x2="51.8" y2="645.3" stroke="#231f20" stroke-width="1"/>
<text x="45.3" y="647.43" font-size="6.2" text-anchor="end">0.0</text>
<line x1="51.2" y1="645.3" x2="133" y2="645.3" stroke="#231f20" stroke-width="1.4"/>
<line x1="68.8" y1="645.3" x2="68.8" y2="648.1" stroke="#231f20" stroke-width="1"/>
<line x1="115.4" y1="645.3" x2="115.4" y2="648.1" stroke="#231f20" stroke-width="1"/>
<text transform="translate(29.2,618.1) rotate(-90)" x="-0.71" y="0" font-size="9.6" textLength="47.70" lengthAdjust="spacingAndGlyphs">Fold change</text>
<text x="52.70" y="658" font-size="6.3" textLength="32.51" lengthAdjust="spacingAndGlyphs">CMML sEVs</text>
<text x="61.17" y="665.6" font-size="6.3" textLength="16.25" lengthAdjust="spacingAndGlyphs">(n=5)</text>
<text x="101.46" y="657.8" font-size="6.3" textLength="28.66" lengthAdjust="spacingAndGlyphs">TF 0.5 pM</text>
<text x="105.58" y="665.6" font-size="6.3" textLength="19.84" lengthAdjust="spacingAndGlyphs">(n=12)</text>
<text x="384.36" y="355.5" font-size="8" textLength="27.89" lengthAdjust="spacingAndGlyphs" stroke="#231f20" stroke-width="0.12">Lagtime</text>
<rect x="329" y="417.2" width="17.6" height="32.4" fill="#6e4a6e" stroke="#5e3160" stroke-width="0.6"/>
<clipPath id="c3"><rect x="369.2" y="404" width="18.2" height="45.6"/></clipPath>
<rect x="369.2" y="404" width="18.2" height="45.6" fill="#9c1c33"/>
<path clip-path="url(#c3)" d="M318.60,450.60L366.20,403.00M323.30,450.60L370.90,403.00M328.00,450.60L375.60,403.00M332.70,450.60L380.30,403.00M337.40,450.60L385.00,403.00M342.10,450.60L389.70,403.00M346.80,450.60L394.40,403.00M351.50,450.60L399.10,403.00M356.20,450.60L403.80,403.00M360.90,450.60L408.50,403.00M365.60,450.60L413.20,403.00M370.30,450.60L417.90,403.00M375.00,450.60L422.60,403.00M379.70,450.60L427.30,403.00M384.40,450.60L432.00,403.00M389.10,450.60L436.70,403.00" stroke="#fff" stroke-width="1.2" fill="none"/>
<clipPath id="c4"><rect x="393" y="409" width="18.6" height="40.6"/></clipPath>
<rect x="393" y="409" width="18.6" height="40.6" fill="#6aa63e"/>
<path clip-path="url(#c4)" d="M347.40,450.60L390.00,408.00M352.10,450.60L394.70,408.00M356.80,450.60L399.40,408.00M361.50,450.60L404.10,408.00M366.20,450.60L408.80,408.00M370.90,450.60L413.50,408.00M375.60,450.60L418.20,408.00M380.30,450.60L422.90,408.00M385.00,450.60L427.60,408.00M389.70,450.60L432.30,408.00M394.40,450.60L437.00,408.00M399.10,450.60L441.70,408.00M403.80,450.60L446.40,408.00M408.50,450.60L451.10,408.00M413.20,450.60L455.80,408.00" stroke="#fff" stroke-width="1.2" fill="none"/>
<rect x="425.5" y="391" width="17.7" height="58.6" fill="#a03446" stroke="#98233a" stroke-width="0.6"/>
<rect x="450" y="385.4" width="17.6" height="64.2" fill="#78a85b" stroke="#6aa04a" stroke-width="0.6"/>
<line x1="378.5" y1="395.5" x2="378.5" y2="404" stroke="#231f20" stroke-width="0.9"/>
<line x1="373.7" y1="395.5" x2="383.3" y2="395.5" stroke="#231f20" stroke-width="1.1"/>
<line x1="402.5" y1="398.5" x2="402.5" y2="409" stroke="#231f20" stroke-width="0.9"/>
<line x1="397.8" y1="398.5" x2="407.2" y2="398.5" stroke="#231f20" stroke-width="1.1"/>
<line x1="434.5" y1="377.8" x2="434.5" y2="391" stroke="#231f20" stroke-width="0.9"/>
<line x1="429.7" y1="377.8" x2="439.3" y2="377.8" stroke="#231f20" stroke-width="1.1"/>
<line x1="458.5" y1="372.3" x2="458.5" y2="385.4" stroke="#231f20" stroke-width="0.9"/>
<line x1="453.8" y1="372.3" x2="463.2" y2="372.3" stroke="#231f20" stroke-width="1.1"/>
<path d="M378.5,393.7 L378.5,390.5 L402.5,390.5 L402.5,396.7" fill="none" stroke="#231f20" stroke-width="1" stroke-linejoin="round"/>
<text x="386.48" y="388.3" font-size="5" textLength="6.65" lengthAdjust="spacingAndGlyphs">ns</text>
<path d="M434.5,375.5 L434.5,366.5 L458.5,366.5 L458.5,370" fill="none" stroke="#231f20" stroke-width="1" stroke-linejoin="round"/>
<text x="443.08" y="364.4" font-size="5" textLength="6.65" lengthAdjust="spacingAndGlyphs">ns</text>
<line x1="325" y1="374.5" x2="478" y2="374.5" stroke="#a9c6e8" stroke-width="0.9" stroke-dasharray="1.6,0.8"/>
<text x="330.57" y="372.3" font-size="5.7" textLength="52.68" lengthAdjust="spacingAndGlyphs" fill="#7eaad8">Negative Control MPR</text>
<line x1="326.1" y1="350.4" x2="326.1" y2="450.2" stroke="#231f20" stroke-width="1.4"/>
<line x1="322.7" y1="353.6" x2="326.1" y2="353.6" stroke="#231f20" stroke-width="1"/>
<text x="319.8" y="355.8" font-size="6.4" text-anchor="end">3</text>
<line x1="322.7" y1="385.6" x2="326.1" y2="385.6" stroke="#231f20" stroke-width="1"/>
<text x="319.8" y="387.8" font-size="6.4" text-anchor="end">2</text>
<line x1="322.7" y1="417.6" x2="326.1" y2="417.6" stroke="#231f20" stroke-width="1"/>
<text x="319.8" y="419.8" font-size="6.4" text-anchor="end">1</text>
<line x1="322.7" y1="449.6" x2="326.1" y2="449.6" stroke="#231f20" stroke-width="1"/>
<text x="319.8" y="451.8" font-size="6.4" text-anchor="end">0</text>
<line x1="325.5" y1="449.6" x2="471" y2="449.6" stroke="#231f20" stroke-width="1.4"/>
<line x1="338" y1="449.6" x2="338" y2="452.4" stroke="#231f20" stroke-width="1"/>
<line x1="378.5" y1="449.6" x2="378.5" y2="452.4" stroke="#231f20" stroke-width="1"/>
<line x1="402.5" y1="449.6" x2="402.5" y2="452.4" stroke="#231f20" stroke-width="1"/>
<line x1="434.5" y1="449.6" x2="434.5" y2="452.4" stroke="#231f20" stroke-width="1"/>
<line x1="458.5" y1="449.6" x2="458.5" y2="452.4" stroke="#231f20" stroke-width="1"/>
<text transform="translate(310.3,423.1) rotate(-90)" x="-0.71" y="0" font-size="9.8" textLength="47.39" lengthAdjust="spacingAndGlyphs">Fold change</text>
<text x="324.86" y="462" font-size="6.3" textLength="27.63" lengthAdjust="spacingAndGlyphs">TF 0.5 pM</text>
<text x="328.59" y="469.8" font-size="6.3" textLength="19.43" lengthAdjust="spacingAndGlyphs">(n=12)</text>
<text x="369.29" y="462" font-size="6.3" textLength="17.91" lengthAdjust="spacingAndGlyphs">CMML</text>
<text x="369.97" y="469.8" font-size="6.3" textLength="16.46" lengthAdjust="spacingAndGlyphs">(n=8)</text>
<text x="395.11" y="462" font-size="6.3" textLength="14.05" lengthAdjust="spacingAndGlyphs">Reac</text>
<text x="394.57" y="469.8" font-size="6.3" textLength="16.25" lengthAdjust="spacingAndGlyphs">(n=5)</text>
<text x="427.09" y="462" font-size="6.3" textLength="18.12" lengthAdjust="spacingAndGlyphs">CMML</text>
<text x="428.58" y="469.8" font-size="6.3" textLength="15.83" lengthAdjust="spacingAndGlyphs">(n=8)</text>
<text x="453.11" y="462" font-size="6.3" textLength="14.05" lengthAdjust="spacingAndGlyphs">Reac</text>
<text x="452.58" y="469.8" font-size="6.3" textLength="15.83" lengthAdjust="spacingAndGlyphs">(n=5)</text>
<path d="M368.6,474.6 L368.6,477.2 L412,477.2 L412,474.6" fill="none" stroke="#231f20" stroke-width="1" stroke-linejoin="round"/>
<path d="M424.4,474.6 L424.4,477.2 L468.4,477.2 L468.4,474.6" fill="none" stroke="#231f20" stroke-width="1" stroke-linejoin="round"/>
<text x="374.57" y="487" font-size="6.3" textLength="31.67" lengthAdjust="spacingAndGlyphs">monocytes</text>
<text x="382.20" y="495.2" font-size="6.3" textLength="16.02" lengthAdjust="spacingAndGlyphs">mEVs</text>
<text x="430.57" y="487" font-size="6.3" textLength="31.67" lengthAdjust="spacingAndGlyphs">monocytes</text>
<text x="439.84" y="495.2" font-size="6.3" textLength="13.37" lengthAdjust="spacingAndGlyphs">sEVs</text>
<text x="364.43" y="537" font-size="8" textLength="50.56" lengthAdjust="spacingAndGlyphs" stroke="#231f20" stroke-width="0.12">Thrombin peak</text>
<rect x="329.6" y="595.2" width="14.6" height="50.2" fill="#6e4a6e" stroke="#5e3160" stroke-width="0.6"/>
<clipPath id="c5"><rect x="364.4" y="582" width="15.6" height="63.4"/></clipPath>
<rect x="364.4" y="582" width="15.6" height="63.4" fill="#9c1c33"/>
<path clip-path="url(#c5)" d="M296.00,646.40L361.40,581.00M300.70,646.40L366.10,581.00M305.40,646.40L370.80,581.00M310.10,646.40L375.50,581.00M314.80,646.40L380.20,581.00M319.50,646.40L384.90,581.00M324.20,646.40L389.60,581.00M328.90,646.40L394.30,581.00M333.60,646.40L399.00,581.00M338.30,646.40L403.70,581.00M343.00,646.40L408.40,581.00M347.70,646.40L413.10,581.00M352.40,646.40L417.80,581.00M357.10,646.40L422.50,581.00M361.80,646.40L427.20,581.00M366.50,646.40L431.90,581.00M371.20,646.40L436.60,581.00M375.90,646.40L441.30,581.00M380.60,646.40L446.00,581.00" stroke="#fff" stroke-width="1.2" fill="none"/>
<clipPath id="c6"><rect x="385.8" y="589.6" width="15.2" height="55.8"/></clipPath>
<rect x="385.8" y="589.6" width="15.2" height="55.8" fill="#6aa63e"/>
<path clip-path="url(#c6)" d="M325.00,646.40L382.80,588.60M329.70,646.40L387.50,588.60M334.40,646.40L392.20,588.60M339.10,646.40L396.90,588.60M343.80,646.40L401.60,588.60M348.50,646.40L406.30,588.60M353.20,646.40L411.00,588.60M357.90,646.40L415.70,588.60M362.60,646.40L420.40,588.60M367.30,646.40L425.10,588.60M372.00,646.40L429.80,588.60M376.70,646.40L434.50,588.60M381.40,646.40L439.20,588.60M386.10,646.40L443.90,588.60M390.80,646.40L448.60,588.60M395.50,646.40L453.30,588.60M400.20,646.40L458.00,588.60" stroke="#fff" stroke-width="1.2" fill="none"/>
<rect x="414" y="585.2" width="15.2" height="60.2" fill="#a03446" stroke="#98233a" stroke-width="0.6"/>
<rect x="435.4" y="609" width="14.6" height="36.4" fill="#78a85b" stroke="#6aa04a" stroke-width="0.6"/>
<line x1="372" y1="572.2" x2="372" y2="582" stroke="#231f20" stroke-width="0.9"/>
<line x1="368" y1="572.2" x2="376" y2="572.2" stroke="#231f20" stroke-width="1.1"/>
<line x1="393.5" y1="580.6" x2="393.5" y2="589.6" stroke="#231f20" stroke-width="0.9"/>
<line x1="389.3" y1="580.6" x2="397.7" y2="580.6" stroke="#231f20" stroke-width="1.1"/>
<line x1="421.5" y1="581.5" x2="421.5" y2="585.2" stroke="#231f20" stroke-width="0.9"/>
<line x1="417.3" y1="581.5" x2="425.7" y2="581.5" stroke="#231f20" stroke-width="1.1"/>
<line x1="442.5" y1="607" x2="442.5" y2="609" stroke="#231f20" stroke-width="0.9"/>
<line x1="438.6" y1="607" x2="446.4" y2="607" stroke="#231f20" stroke-width="1.1"/>
<path d="M372,569.7 L372,567 L393.5,567 L393.5,578.1" fill="none" stroke="#231f20" stroke-width="1" stroke-linejoin="round"/>
<text x="379.58" y="563.7" font-size="5" textLength="6.65" lengthAdjust="spacingAndGlyphs">ns</text>
<path d="M421.5,578.9 L421.5,575.5 L442.5,575.5 L442.5,604.4" fill="none" stroke="#231f20" stroke-width="1" stroke-linejoin="round"/>
<text x="432.3" y="575.4" font-size="5.4" text-anchor="middle">***</text>
<line x1="326.2" y1="542" x2="326.2" y2="646" stroke="#231f20" stroke-width="1.4"/>
<line x1="322.8" y1="545.4" x2="326.2" y2="545.4" stroke="#231f20" stroke-width="1"/>
<text x="319.4" y="547.53" font-size="6.2" text-anchor="end">2.0</text>
<line x1="322.8" y1="570.4" x2="326.2" y2="570.4" stroke="#231f20" stroke-width="1"/>
<text x="319.4" y="572.53" font-size="6.2" text-anchor="end">1.5</text>
<line x1="322.8" y1="595.4" x2="326.2" y2="595.4" stroke="#231f20" stroke-width="1"/>
<text x="319.4" y="597.53" font-size="6.2" text-anchor="end">1.0</text>
<line x1="322.8" y1="620.4" x2="326.2" y2="620.4" stroke="#231f20" stroke-width="1"/>
<text x="319.4" y="622.53" font-size="6.2" text-anchor="end">0.5</text>
<line x1="322.8" y1="645.4" x2="326.2" y2="645.4" stroke="#231f20" stroke-width="1"/>
<text x="319.4" y="647.53" font-size="6.2" text-anchor="end">0.0</text>
<line x1="325.6" y1="645.4" x2="454" y2="645.4" stroke="#231f20" stroke-width="1.4"/>
<line x1="336.8" y1="645.4" x2="336.8" y2="648.2" stroke="#231f20" stroke-width="1"/>
<line x1="372" y1="645.4" x2="372" y2="648.2" stroke="#231f20" stroke-width="1"/>
<line x1="393.5" y1="645.4" x2="393.5" y2="648.2" stroke="#231f20" stroke-width="1"/>
<line x1="421.5" y1="645.4" x2="421.5" y2="648.2" stroke="#231f20" stroke-width="1"/>
<line x1="442.5" y1="645.4" x2="442.5" y2="648.2" stroke="#231f20" stroke-width="1"/>
<text transform="translate(304.7,617) rotate(-90)" x="-0.70" y="0" font-size="9.4" textLength="47.18" lengthAdjust="spacingAndGlyphs">Fold change</text>
<text x="324.86" y="658" font-size="6.3" textLength="28.04" lengthAdjust="spacingAndGlyphs">TF 0.5 pM</text>
<text x="328.58" y="665.6" font-size="6.3" textLength="19.84" lengthAdjust="spacingAndGlyphs">(n=12)</text>
<text x="362.69" y="658" font-size="6.3" textLength="17.91" lengthAdjust="spacingAndGlyphs">CMML</text>
<text x="363.97" y="665.6" font-size="6.3" textLength="16.46" lengthAdjust="spacingAndGlyphs">(n=8)</text>
<text x="386.52" y="658" font-size="6.3" textLength="13.63" lengthAdjust="spacingAndGlyphs">Reac</text>
<text x="385.58" y="665.6" font-size="6.3" textLength="15.83" lengthAdjust="spacingAndGlyphs">(n=5)</text>
<text x="411.68" y="658" font-size="6.3" textLength="18.53" lengthAdjust="spacingAndGlyphs">CMML</text>
<text x="413.17" y="665.6" font-size="6.3" textLength="16.25" lengthAdjust="spacingAndGlyphs">(n=8)</text>
<text x="435.52" y="658" font-size="6.3" textLength="13.63" lengthAdjust="spacingAndGlyphs">Reac</text>
<text x="434.58" y="665.6" font-size="6.3" textLength="15.83" lengthAdjust="spacingAndGlyphs">(n=5)</text>
<path d="M363.6,670.4 L363.6,673 L402.4,673 L402.4,670.4" fill="none" stroke="#231f20" stroke-width="1" stroke-linejoin="round"/>
<path d="M412.4,670.4 L412.4,673 L451.6,673 L451.6,670.4" fill="none" stroke="#231f20" stroke-width="1" stroke-linejoin="round"/>
<text x="366.56" y="683" font-size="6.3" textLength="32.08" lengthAdjust="spacingAndGlyphs">monocytes</text>
<text x="374.60" y="691" font-size="6.3" textLength="16.02" lengthAdjust="spacingAndGlyphs">mEVs</text>
<text x="415.55" y="683" font-size="6.3" textLength="32.69" lengthAdjust="spacingAndGlyphs">monocytes</text>
<text x="425.85" y="691" font-size="6.3" textLength="12.34" lengthAdjust="spacingAndGlyphs">sEVs</text>
</svg>
</body></html>
